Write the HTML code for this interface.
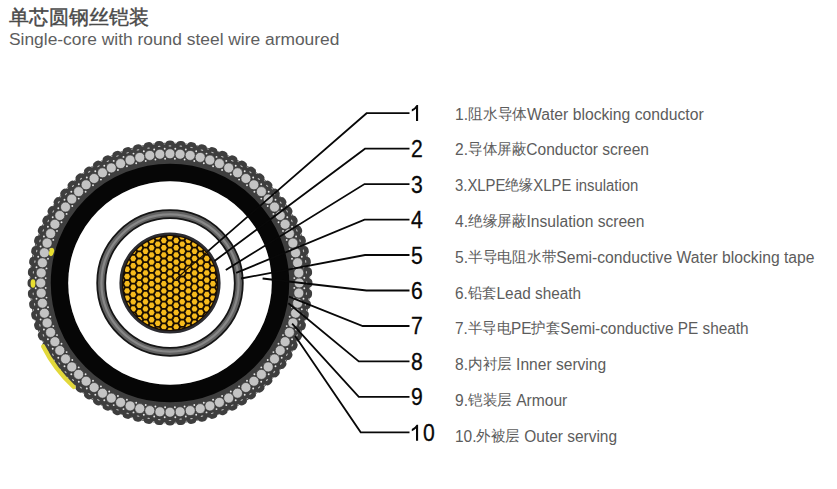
<!DOCTYPE html>
<html><head><meta charset="utf-8"><style>
html,body{margin:0;padding:0;background:#fff;width:837px;height:489px;overflow:hidden;position:relative}
body{font-family:"Liberation Sans",sans-serif}
svg{position:absolute;left:0;top:0}
.t1{position:absolute;left:9px;top:5px;font-size:20px;line-height:24px;color:#4a4a4a;font-weight:400;-webkit-text-stroke:0.45px #4a4a4a;white-space:nowrap}
.t2{position:absolute;left:9px;top:29.8px;font-size:16px;line-height:20px;color:#5e5e5e;white-space:nowrap;transform-origin:0 0;transform:scaleX(1.086376098272447)}
.lb{position:absolute;left:454.8px;font-size:16px;line-height:16px;color:#5c5c5c;white-space:nowrap;transform-origin:0 0}
.lb .c{font-size:14.7px;position:relative;top:-1px}
.nm{position:absolute;font-size:23.5px;line-height:0px;height:0;color:#080808;-webkit-text-stroke:0.3px #080808;white-space:nowrap;transform-origin:0 0;transform:scaleX(0.9)}
</style></head><body>
<svg width="837" height="489" viewBox="0 0 837 489">
<circle cx="170" cy="283" r="140.4" fill="#3e3e3e"/>
<ellipse cx="305.9" cy="288.3" rx="3.3" ry="3.9" transform="rotate(2.2 305.9 288.3)" fill="#3e3e3e"/>
<ellipse cx="305.1" cy="299" rx="3.3" ry="3.9" transform="rotate(6.8 305.1 299)" fill="#3e3e3e"/>
<ellipse cx="303.4" cy="309.5" rx="3.3" ry="3.9" transform="rotate(11.2 303.4 309.5)" fill="#3e3e3e"/>
<ellipse cx="300.9" cy="319.9" rx="3.3" ry="3.9" transform="rotate(15.8 300.9 319.9)" fill="#3e3e3e"/>
<ellipse cx="297.6" cy="330.1" rx="3.3" ry="3.9" transform="rotate(20.2 297.6 330.1)" fill="#3e3e3e"/>
<ellipse cx="293.5" cy="339.9" rx="3.3" ry="3.9" transform="rotate(24.7 293.5 339.9)" fill="#3e3e3e"/>
<ellipse cx="288.7" cy="349.5" rx="3.3" ry="3.9" transform="rotate(29.2 288.7 349.5)" fill="#3e3e3e"/>
<ellipse cx="283.1" cy="358.6" rx="3.3" ry="3.9" transform="rotate(33.8 283.1 358.6)" fill="#3e3e3e"/>
<ellipse cx="276.8" cy="367.2" rx="3.3" ry="3.9" transform="rotate(38.2 276.8 367.2)" fill="#3e3e3e"/>
<ellipse cx="269.9" cy="375.3" rx="3.3" ry="3.9" transform="rotate(42.8 269.9 375.3)" fill="#3e3e3e"/>
<ellipse cx="262.3" cy="382.9" rx="3.3" ry="3.9" transform="rotate(47.2 262.3 382.9)" fill="#3e3e3e"/>
<ellipse cx="254.2" cy="389.8" rx="3.3" ry="3.9" transform="rotate(51.8 254.2 389.8)" fill="#3e3e3e"/>
<ellipse cx="245.6" cy="396.1" rx="3.3" ry="3.9" transform="rotate(56.2 245.6 396.1)" fill="#3e3e3e"/>
<ellipse cx="236.5" cy="401.7" rx="3.3" ry="3.9" transform="rotate(60.8 236.5 401.7)" fill="#3e3e3e"/>
<ellipse cx="226.9" cy="406.5" rx="3.3" ry="3.9" transform="rotate(65.2 226.9 406.5)" fill="#3e3e3e"/>
<ellipse cx="217.1" cy="410.6" rx="3.3" ry="3.9" transform="rotate(69.8 217.1 410.6)" fill="#3e3e3e"/>
<ellipse cx="206.9" cy="413.9" rx="3.3" ry="3.9" transform="rotate(74.2 206.9 413.9)" fill="#3e3e3e"/>
<ellipse cx="196.5" cy="416.4" rx="3.3" ry="3.9" transform="rotate(78.8 196.5 416.4)" fill="#3e3e3e"/>
<ellipse cx="186" cy="418.1" rx="3.3" ry="3.9" transform="rotate(83.2 186 418.1)" fill="#3e3e3e"/>
<ellipse cx="175.3" cy="418.9" rx="3.3" ry="3.9" transform="rotate(87.8 175.3 418.9)" fill="#3e3e3e"/>
<ellipse cx="164.7" cy="418.9" rx="3.3" ry="3.9" transform="rotate(92.2 164.7 418.9)" fill="#3e3e3e"/>
<ellipse cx="154" cy="418.1" rx="3.3" ry="3.9" transform="rotate(96.8 154 418.1)" fill="#3e3e3e"/>
<ellipse cx="143.5" cy="416.4" rx="3.3" ry="3.9" transform="rotate(101.2 143.5 416.4)" fill="#3e3e3e"/>
<ellipse cx="133.1" cy="413.9" rx="3.3" ry="3.9" transform="rotate(105.8 133.1 413.9)" fill="#3e3e3e"/>
<ellipse cx="122.9" cy="410.6" rx="3.3" ry="3.9" transform="rotate(110.2 122.9 410.6)" fill="#3e3e3e"/>
<ellipse cx="113.1" cy="406.5" rx="3.3" ry="3.9" transform="rotate(114.7 113.1 406.5)" fill="#3e3e3e"/>
<ellipse cx="103.5" cy="401.7" rx="3.3" ry="3.9" transform="rotate(119.3 103.5 401.7)" fill="#3e3e3e"/>
<ellipse cx="94.4" cy="396.1" rx="3.3" ry="3.9" transform="rotate(123.8 94.4 396.1)" fill="#3e3e3e"/>
<ellipse cx="85.8" cy="389.8" rx="3.3" ry="3.9" transform="rotate(128.2 85.8 389.8)" fill="#3e3e3e"/>
<ellipse cx="77.7" cy="382.9" rx="3.3" ry="3.9" transform="rotate(132.8 77.7 382.9)" fill="#3e3e3e"/>
<ellipse cx="70.1" cy="375.3" rx="3.3" ry="3.9" transform="rotate(137.2 70.1 375.3)" fill="#3e3e3e"/>
<ellipse cx="63.2" cy="367.2" rx="3.3" ry="3.9" transform="rotate(141.8 63.2 367.2)" fill="#3e3e3e"/>
<ellipse cx="56.9" cy="358.6" rx="3.3" ry="3.9" transform="rotate(146.2 56.9 358.6)" fill="#3e3e3e"/>
<ellipse cx="51.3" cy="349.5" rx="3.3" ry="3.9" transform="rotate(150.8 51.3 349.5)" fill="#3e3e3e"/>
<ellipse cx="46.5" cy="339.9" rx="3.3" ry="3.9" transform="rotate(155.2 46.5 339.9)" fill="#3e3e3e"/>
<ellipse cx="42.4" cy="330.1" rx="3.3" ry="3.9" transform="rotate(159.8 42.4 330.1)" fill="#3e3e3e"/>
<ellipse cx="39.1" cy="319.9" rx="3.3" ry="3.9" transform="rotate(164.2 39.1 319.9)" fill="#3e3e3e"/>
<ellipse cx="36.6" cy="309.5" rx="3.3" ry="3.9" transform="rotate(168.8 36.6 309.5)" fill="#3e3e3e"/>
<ellipse cx="34.9" cy="299" rx="3.3" ry="3.9" transform="rotate(173.2 34.9 299)" fill="#3e3e3e"/>
<ellipse cx="34.1" cy="288.3" rx="3.3" ry="3.9" transform="rotate(177.8 34.1 288.3)" fill="#3e3e3e"/>
<ellipse cx="34.1" cy="277.7" rx="3.3" ry="3.9" transform="rotate(182.2 34.1 277.7)" fill="#3e3e3e"/>
<ellipse cx="34.9" cy="267" rx="3.3" ry="3.9" transform="rotate(186.8 34.9 267)" fill="#3e3e3e"/>
<ellipse cx="36.6" cy="256.5" rx="3.3" ry="3.9" transform="rotate(191.2 36.6 256.5)" fill="#3e3e3e"/>
<ellipse cx="39.1" cy="246.1" rx="3.3" ry="3.9" transform="rotate(195.8 39.1 246.1)" fill="#3e3e3e"/>
<ellipse cx="42.4" cy="235.9" rx="3.3" ry="3.9" transform="rotate(200.2 42.4 235.9)" fill="#3e3e3e"/>
<ellipse cx="46.5" cy="226.1" rx="3.3" ry="3.9" transform="rotate(204.8 46.5 226.1)" fill="#3e3e3e"/>
<ellipse cx="51.3" cy="216.5" rx="3.3" ry="3.9" transform="rotate(209.2 51.3 216.5)" fill="#3e3e3e"/>
<ellipse cx="56.9" cy="207.4" rx="3.3" ry="3.9" transform="rotate(213.8 56.9 207.4)" fill="#3e3e3e"/>
<ellipse cx="63.2" cy="198.8" rx="3.3" ry="3.9" transform="rotate(218.2 63.2 198.8)" fill="#3e3e3e"/>
<ellipse cx="70.1" cy="190.7" rx="3.3" ry="3.9" transform="rotate(222.8 70.1 190.7)" fill="#3e3e3e"/>
<ellipse cx="77.7" cy="183.1" rx="3.3" ry="3.9" transform="rotate(227.2 77.7 183.1)" fill="#3e3e3e"/>
<ellipse cx="85.8" cy="176.2" rx="3.3" ry="3.9" transform="rotate(231.8 85.8 176.2)" fill="#3e3e3e"/>
<ellipse cx="94.4" cy="169.9" rx="3.3" ry="3.9" transform="rotate(236.2 94.4 169.9)" fill="#3e3e3e"/>
<ellipse cx="103.5" cy="164.3" rx="3.3" ry="3.9" transform="rotate(240.8 103.5 164.3)" fill="#3e3e3e"/>
<ellipse cx="113.1" cy="159.5" rx="3.3" ry="3.9" transform="rotate(245.2 113.1 159.5)" fill="#3e3e3e"/>
<ellipse cx="122.9" cy="155.4" rx="3.3" ry="3.9" transform="rotate(249.8 122.9 155.4)" fill="#3e3e3e"/>
<ellipse cx="133.1" cy="152.1" rx="3.3" ry="3.9" transform="rotate(254.2 133.1 152.1)" fill="#3e3e3e"/>
<ellipse cx="143.5" cy="149.6" rx="3.3" ry="3.9" transform="rotate(258.8 143.5 149.6)" fill="#3e3e3e"/>
<ellipse cx="154" cy="147.9" rx="3.3" ry="3.9" transform="rotate(263.2 154 147.9)" fill="#3e3e3e"/>
<ellipse cx="164.7" cy="147.1" rx="3.3" ry="3.9" transform="rotate(267.8 164.7 147.1)" fill="#3e3e3e"/>
<ellipse cx="175.3" cy="147.1" rx="3.3" ry="3.9" transform="rotate(272.2 175.3 147.1)" fill="#3e3e3e"/>
<ellipse cx="186" cy="147.9" rx="3.3" ry="3.9" transform="rotate(276.8 186 147.9)" fill="#3e3e3e"/>
<ellipse cx="196.5" cy="149.6" rx="3.3" ry="3.9" transform="rotate(281.2 196.5 149.6)" fill="#3e3e3e"/>
<ellipse cx="206.9" cy="152.1" rx="3.3" ry="3.9" transform="rotate(285.8 206.9 152.1)" fill="#3e3e3e"/>
<ellipse cx="217.1" cy="155.4" rx="3.3" ry="3.9" transform="rotate(290.2 217.1 155.4)" fill="#3e3e3e"/>
<ellipse cx="226.9" cy="159.5" rx="3.3" ry="3.9" transform="rotate(294.8 226.9 159.5)" fill="#3e3e3e"/>
<ellipse cx="236.5" cy="164.3" rx="3.3" ry="3.9" transform="rotate(299.2 236.5 164.3)" fill="#3e3e3e"/>
<ellipse cx="245.6" cy="169.9" rx="3.3" ry="3.9" transform="rotate(303.8 245.6 169.9)" fill="#3e3e3e"/>
<ellipse cx="254.2" cy="176.2" rx="3.3" ry="3.9" transform="rotate(308.2 254.2 176.2)" fill="#3e3e3e"/>
<ellipse cx="262.3" cy="183.1" rx="3.3" ry="3.9" transform="rotate(312.8 262.3 183.1)" fill="#3e3e3e"/>
<ellipse cx="269.9" cy="190.7" rx="3.3" ry="3.9" transform="rotate(317.2 269.9 190.7)" fill="#3e3e3e"/>
<ellipse cx="276.8" cy="198.8" rx="3.3" ry="3.9" transform="rotate(321.8 276.8 198.8)" fill="#3e3e3e"/>
<ellipse cx="283.1" cy="207.4" rx="3.3" ry="3.9" transform="rotate(326.2 283.1 207.4)" fill="#3e3e3e"/>
<ellipse cx="288.7" cy="216.5" rx="3.3" ry="3.9" transform="rotate(330.8 288.7 216.5)" fill="#3e3e3e"/>
<ellipse cx="293.5" cy="226.1" rx="3.3" ry="3.9" transform="rotate(335.2 293.5 226.1)" fill="#3e3e3e"/>
<ellipse cx="297.6" cy="235.9" rx="3.3" ry="3.9" transform="rotate(339.8 297.6 235.9)" fill="#3e3e3e"/>
<ellipse cx="300.9" cy="246.1" rx="3.3" ry="3.9" transform="rotate(344.2 300.9 246.1)" fill="#3e3e3e"/>
<ellipse cx="303.4" cy="256.5" rx="3.3" ry="3.9" transform="rotate(348.8 303.4 256.5)" fill="#3e3e3e"/>
<ellipse cx="305.1" cy="267" rx="3.3" ry="3.9" transform="rotate(353.2 305.1 267)" fill="#3e3e3e"/>
<ellipse cx="305.9" cy="277.7" rx="3.3" ry="3.9" transform="rotate(357.8 305.9 277.7)" fill="#3e3e3e"/>
<ellipse cx="309.3" cy="283" rx="3.2" ry="4.3" transform="rotate(0.0 309.3 283)" fill="#3e3e3e"/>
<ellipse cx="308.9" cy="293.9" rx="3.2" ry="4.3" transform="rotate(4.5 308.9 293.9)" fill="#3e3e3e"/>
<ellipse cx="307.6" cy="304.8" rx="3.2" ry="4.3" transform="rotate(9.0 307.6 304.8)" fill="#3e3e3e"/>
<ellipse cx="305.5" cy="315.5" rx="3.2" ry="4.3" transform="rotate(13.5 305.5 315.5)" fill="#3e3e3e"/>
<ellipse cx="302.5" cy="326" rx="3.2" ry="4.3" transform="rotate(18.0 302.5 326)" fill="#3e3e3e"/>
<ellipse cx="298.7" cy="336.3" rx="3.2" ry="4.3" transform="rotate(22.5 298.7 336.3)" fill="#3e3e3e"/>
<ellipse cx="294.1" cy="346.2" rx="3.2" ry="4.3" transform="rotate(27.0 294.1 346.2)" fill="#3e3e3e"/>
<ellipse cx="288.8" cy="355.8" rx="3.2" ry="4.3" transform="rotate(31.5 288.8 355.8)" fill="#3e3e3e"/>
<ellipse cx="282.7" cy="364.9" rx="3.2" ry="4.3" transform="rotate(36.0 282.7 364.9)" fill="#3e3e3e"/>
<ellipse cx="275.9" cy="373.5" rx="3.2" ry="4.3" transform="rotate(40.5 275.9 373.5)" fill="#3e3e3e"/>
<ellipse cx="268.5" cy="381.5" rx="3.2" ry="4.3" transform="rotate(45.0 268.5 381.5)" fill="#3e3e3e"/>
<ellipse cx="260.5" cy="388.9" rx="3.2" ry="4.3" transform="rotate(49.5 260.5 388.9)" fill="#3e3e3e"/>
<ellipse cx="251.9" cy="395.7" rx="3.2" ry="4.3" transform="rotate(54.0 251.9 395.7)" fill="#3e3e3e"/>
<ellipse cx="242.8" cy="401.8" rx="3.2" ry="4.3" transform="rotate(58.5 242.8 401.8)" fill="#3e3e3e"/>
<ellipse cx="233.2" cy="407.1" rx="3.2" ry="4.3" transform="rotate(63.0 233.2 407.1)" fill="#3e3e3e"/>
<ellipse cx="223.3" cy="411.7" rx="3.2" ry="4.3" transform="rotate(67.5 223.3 411.7)" fill="#3e3e3e"/>
<ellipse cx="213" cy="415.5" rx="3.2" ry="4.3" transform="rotate(72.0 213 415.5)" fill="#3e3e3e"/>
<ellipse cx="202.5" cy="418.5" rx="3.2" ry="4.3" transform="rotate(76.5 202.5 418.5)" fill="#3e3e3e"/>
<ellipse cx="191.8" cy="420.6" rx="3.2" ry="4.3" transform="rotate(81.0 191.8 420.6)" fill="#3e3e3e"/>
<ellipse cx="180.9" cy="421.9" rx="3.2" ry="4.3" transform="rotate(85.5 180.9 421.9)" fill="#3e3e3e"/>
<ellipse cx="170" cy="422.3" rx="3.2" ry="4.3" transform="rotate(90.0 170 422.3)" fill="#3e3e3e"/>
<ellipse cx="159.1" cy="421.9" rx="3.2" ry="4.3" transform="rotate(94.5 159.1 421.9)" fill="#3e3e3e"/>
<ellipse cx="148.2" cy="420.6" rx="3.2" ry="4.3" transform="rotate(99.0 148.2 420.6)" fill="#3e3e3e"/>
<ellipse cx="137.5" cy="418.5" rx="3.2" ry="4.3" transform="rotate(103.5 137.5 418.5)" fill="#3e3e3e"/>
<ellipse cx="127" cy="415.5" rx="3.2" ry="4.3" transform="rotate(108.0 127 415.5)" fill="#3e3e3e"/>
<ellipse cx="116.7" cy="411.7" rx="3.2" ry="4.3" transform="rotate(112.5 116.7 411.7)" fill="#3e3e3e"/>
<ellipse cx="106.8" cy="407.1" rx="3.2" ry="4.3" transform="rotate(117.0 106.8 407.1)" fill="#3e3e3e"/>
<ellipse cx="97.2" cy="401.8" rx="3.2" ry="4.3" transform="rotate(121.5 97.2 401.8)" fill="#3e3e3e"/>
<ellipse cx="88.1" cy="395.7" rx="3.2" ry="4.3" transform="rotate(126.0 88.1 395.7)" fill="#3e3e3e"/>
<ellipse cx="79.5" cy="388.9" rx="3.2" ry="4.3" transform="rotate(130.5 79.5 388.9)" fill="#3e3e3e"/>
<ellipse cx="71.5" cy="381.5" rx="3.2" ry="4.3" transform="rotate(135.0 71.5 381.5)" fill="#3e3e3e"/>
<ellipse cx="64.1" cy="373.5" rx="3.2" ry="4.3" transform="rotate(139.5 64.1 373.5)" fill="#3e3e3e"/>
<ellipse cx="57.3" cy="364.9" rx="3.2" ry="4.3" transform="rotate(144.0 57.3 364.9)" fill="#3e3e3e"/>
<ellipse cx="51.2" cy="355.8" rx="3.2" ry="4.3" transform="rotate(148.5 51.2 355.8)" fill="#3e3e3e"/>
<ellipse cx="45.9" cy="346.2" rx="3.2" ry="4.3" transform="rotate(153.0 45.9 346.2)" fill="#3e3e3e"/>
<ellipse cx="41.3" cy="336.3" rx="3.2" ry="4.3" transform="rotate(157.5 41.3 336.3)" fill="#3e3e3e"/>
<ellipse cx="37.5" cy="326" rx="3.2" ry="4.3" transform="rotate(162.0 37.5 326)" fill="#3e3e3e"/>
<ellipse cx="34.5" cy="315.5" rx="3.2" ry="4.3" transform="rotate(166.5 34.5 315.5)" fill="#3e3e3e"/>
<ellipse cx="32.4" cy="304.8" rx="3.2" ry="4.3" transform="rotate(171.0 32.4 304.8)" fill="#3e3e3e"/>
<ellipse cx="31.1" cy="293.9" rx="3.2" ry="4.3" transform="rotate(175.5 31.1 293.9)" fill="#3e3e3e"/>
<ellipse cx="30.7" cy="283" rx="3.2" ry="4.3" transform="rotate(180.0 30.7 283)" fill="#3e3e3e"/>
<ellipse cx="31.1" cy="272.1" rx="3.2" ry="4.3" transform="rotate(184.5 31.1 272.1)" fill="#3e3e3e"/>
<ellipse cx="32.4" cy="261.2" rx="3.2" ry="4.3" transform="rotate(189.0 32.4 261.2)" fill="#3e3e3e"/>
<ellipse cx="34.5" cy="250.5" rx="3.2" ry="4.3" transform="rotate(193.5 34.5 250.5)" fill="#3e3e3e"/>
<ellipse cx="37.5" cy="240" rx="3.2" ry="4.3" transform="rotate(198.0 37.5 240)" fill="#3e3e3e"/>
<ellipse cx="41.3" cy="229.7" rx="3.2" ry="4.3" transform="rotate(202.5 41.3 229.7)" fill="#3e3e3e"/>
<ellipse cx="45.9" cy="219.8" rx="3.2" ry="4.3" transform="rotate(207.0 45.9 219.8)" fill="#3e3e3e"/>
<ellipse cx="51.2" cy="210.2" rx="3.2" ry="4.3" transform="rotate(211.5 51.2 210.2)" fill="#3e3e3e"/>
<ellipse cx="57.3" cy="201.1" rx="3.2" ry="4.3" transform="rotate(216.0 57.3 201.1)" fill="#3e3e3e"/>
<ellipse cx="64.1" cy="192.5" rx="3.2" ry="4.3" transform="rotate(220.5 64.1 192.5)" fill="#3e3e3e"/>
<ellipse cx="71.5" cy="184.5" rx="3.2" ry="4.3" transform="rotate(225.0 71.5 184.5)" fill="#3e3e3e"/>
<ellipse cx="79.5" cy="177.1" rx="3.2" ry="4.3" transform="rotate(229.5 79.5 177.1)" fill="#3e3e3e"/>
<ellipse cx="88.1" cy="170.3" rx="3.2" ry="4.3" transform="rotate(234.0 88.1 170.3)" fill="#3e3e3e"/>
<ellipse cx="97.2" cy="164.2" rx="3.2" ry="4.3" transform="rotate(238.5 97.2 164.2)" fill="#3e3e3e"/>
<ellipse cx="106.8" cy="158.9" rx="3.2" ry="4.3" transform="rotate(243.0 106.8 158.9)" fill="#3e3e3e"/>
<ellipse cx="116.7" cy="154.3" rx="3.2" ry="4.3" transform="rotate(247.5 116.7 154.3)" fill="#3e3e3e"/>
<ellipse cx="127" cy="150.5" rx="3.2" ry="4.3" transform="rotate(252.0 127 150.5)" fill="#3e3e3e"/>
<ellipse cx="137.5" cy="147.5" rx="3.2" ry="4.3" transform="rotate(256.5 137.5 147.5)" fill="#3e3e3e"/>
<ellipse cx="148.2" cy="145.4" rx="3.2" ry="4.3" transform="rotate(261.0 148.2 145.4)" fill="#3e3e3e"/>
<ellipse cx="159.1" cy="144.1" rx="3.2" ry="4.3" transform="rotate(265.5 159.1 144.1)" fill="#3e3e3e"/>
<ellipse cx="170" cy="143.7" rx="3.2" ry="4.3" transform="rotate(270.0 170 143.7)" fill="#3e3e3e"/>
<ellipse cx="180.9" cy="144.1" rx="3.2" ry="4.3" transform="rotate(274.5 180.9 144.1)" fill="#3e3e3e"/>
<ellipse cx="191.8" cy="145.4" rx="3.2" ry="4.3" transform="rotate(279.0 191.8 145.4)" fill="#3e3e3e"/>
<ellipse cx="202.5" cy="147.5" rx="3.2" ry="4.3" transform="rotate(283.5 202.5 147.5)" fill="#3e3e3e"/>
<ellipse cx="213" cy="150.5" rx="3.2" ry="4.3" transform="rotate(288.0 213 150.5)" fill="#3e3e3e"/>
<ellipse cx="223.3" cy="154.3" rx="3.2" ry="4.3" transform="rotate(292.5 223.3 154.3)" fill="#3e3e3e"/>
<ellipse cx="233.2" cy="158.9" rx="3.2" ry="4.3" transform="rotate(297.0 233.2 158.9)" fill="#3e3e3e"/>
<ellipse cx="242.8" cy="164.2" rx="3.2" ry="4.3" transform="rotate(301.5 242.8 164.2)" fill="#3e3e3e"/>
<ellipse cx="251.9" cy="170.3" rx="3.2" ry="4.3" transform="rotate(306.0 251.9 170.3)" fill="#3e3e3e"/>
<ellipse cx="260.5" cy="177.1" rx="3.2" ry="4.3" transform="rotate(310.5 260.5 177.1)" fill="#3e3e3e"/>
<ellipse cx="268.5" cy="184.5" rx="3.2" ry="4.3" transform="rotate(315.0 268.5 184.5)" fill="#3e3e3e"/>
<ellipse cx="275.9" cy="192.5" rx="3.2" ry="4.3" transform="rotate(319.5 275.9 192.5)" fill="#3e3e3e"/>
<ellipse cx="282.7" cy="201.1" rx="3.2" ry="4.3" transform="rotate(324.0 282.7 201.1)" fill="#3e3e3e"/>
<ellipse cx="288.8" cy="210.2" rx="3.2" ry="4.3" transform="rotate(328.5 288.8 210.2)" fill="#3e3e3e"/>
<ellipse cx="294.1" cy="219.8" rx="3.2" ry="4.3" transform="rotate(333.0 294.1 219.8)" fill="#3e3e3e"/>
<ellipse cx="298.7" cy="229.7" rx="3.2" ry="4.3" transform="rotate(337.5 298.7 229.7)" fill="#3e3e3e"/>
<ellipse cx="302.5" cy="240" rx="3.2" ry="4.3" transform="rotate(342.0 302.5 240)" fill="#3e3e3e"/>
<ellipse cx="305.5" cy="250.5" rx="3.2" ry="4.3" transform="rotate(346.5 305.5 250.5)" fill="#3e3e3e"/>
<ellipse cx="307.6" cy="261.2" rx="3.2" ry="4.3" transform="rotate(351.0 307.6 261.2)" fill="#3e3e3e"/>
<ellipse cx="308.9" cy="272.1" rx="3.2" ry="4.3" transform="rotate(355.5 308.9 272.1)" fill="#3e3e3e"/>
<circle cx="299.2" cy="283" r="5.0" fill="#c4c4c4" stroke="#2e2e2e" stroke-width="0.6"/>
<circle cx="298.8" cy="293.1" r="5.0" fill="#c4c4c4" stroke="#2e2e2e" stroke-width="0.6"/>
<circle cx="297.6" cy="303.2" r="5.0" fill="#c4c4c4" stroke="#2e2e2e" stroke-width="0.6"/>
<circle cx="295.6" cy="313.2" r="5.0" fill="#c4c4c4" stroke="#2e2e2e" stroke-width="0.6"/>
<circle cx="292.9" cy="322.9" r="5.0" fill="#c4c4c4" stroke="#2e2e2e" stroke-width="0.6"/>
<circle cx="289.4" cy="332.4" r="5.0" fill="#c4c4c4" stroke="#2e2e2e" stroke-width="0.6"/>
<circle cx="285.1" cy="341.7" r="5.0" fill="#c4c4c4" stroke="#2e2e2e" stroke-width="0.6"/>
<circle cx="280.2" cy="350.5" r="5.0" fill="#c4c4c4" stroke="#2e2e2e" stroke-width="0.6"/>
<circle cx="274.5" cy="358.9" r="5.0" fill="#c4c4c4" stroke="#2e2e2e" stroke-width="0.6"/>
<circle cx="268.2" cy="366.9" r="5.0" fill="#c4c4c4" stroke="#2e2e2e" stroke-width="0.6"/>
<circle cx="261.4" cy="374.4" r="5.0" fill="#c4c4c4" stroke="#2e2e2e" stroke-width="0.6"/>
<circle cx="253.9" cy="381.2" r="5.0" fill="#c4c4c4" stroke="#2e2e2e" stroke-width="0.6"/>
<circle cx="245.9" cy="387.5" r="5.0" fill="#c4c4c4" stroke="#2e2e2e" stroke-width="0.6"/>
<circle cx="237.5" cy="393.2" r="5.0" fill="#c4c4c4" stroke="#2e2e2e" stroke-width="0.6"/>
<circle cx="228.7" cy="398.1" r="5.0" fill="#c4c4c4" stroke="#2e2e2e" stroke-width="0.6"/>
<circle cx="219.4" cy="402.4" r="5.0" fill="#c4c4c4" stroke="#2e2e2e" stroke-width="0.6"/>
<circle cx="209.9" cy="405.9" r="5.0" fill="#c4c4c4" stroke="#2e2e2e" stroke-width="0.6"/>
<circle cx="200.2" cy="408.6" r="5.0" fill="#c4c4c4" stroke="#2e2e2e" stroke-width="0.6"/>
<circle cx="190.2" cy="410.6" r="5.0" fill="#c4c4c4" stroke="#2e2e2e" stroke-width="0.6"/>
<circle cx="180.1" cy="411.8" r="5.0" fill="#c4c4c4" stroke="#2e2e2e" stroke-width="0.6"/>
<circle cx="170" cy="412.2" r="5.0" fill="#c4c4c4" stroke="#2e2e2e" stroke-width="0.6"/>
<circle cx="159.9" cy="411.8" r="5.0" fill="#c4c4c4" stroke="#2e2e2e" stroke-width="0.6"/>
<circle cx="149.8" cy="410.6" r="5.0" fill="#c4c4c4" stroke="#2e2e2e" stroke-width="0.6"/>
<circle cx="139.8" cy="408.6" r="5.0" fill="#c4c4c4" stroke="#2e2e2e" stroke-width="0.6"/>
<circle cx="130.1" cy="405.9" r="5.0" fill="#c4c4c4" stroke="#2e2e2e" stroke-width="0.6"/>
<circle cx="120.6" cy="402.4" r="5.0" fill="#c4c4c4" stroke="#2e2e2e" stroke-width="0.6"/>
<circle cx="111.3" cy="398.1" r="5.0" fill="#c4c4c4" stroke="#2e2e2e" stroke-width="0.6"/>
<circle cx="102.5" cy="393.2" r="5.0" fill="#c4c4c4" stroke="#2e2e2e" stroke-width="0.6"/>
<circle cx="94.1" cy="387.5" r="5.0" fill="#c4c4c4" stroke="#2e2e2e" stroke-width="0.6"/>
<circle cx="86.1" cy="381.2" r="5.0" fill="#c4c4c4" stroke="#2e2e2e" stroke-width="0.6"/>
<circle cx="78.6" cy="374.4" r="5.0" fill="#c4c4c4" stroke="#2e2e2e" stroke-width="0.6"/>
<circle cx="71.8" cy="366.9" r="5.0" fill="#c4c4c4" stroke="#2e2e2e" stroke-width="0.6"/>
<circle cx="65.5" cy="358.9" r="5.0" fill="#c4c4c4" stroke="#2e2e2e" stroke-width="0.6"/>
<circle cx="59.8" cy="350.5" r="5.0" fill="#c4c4c4" stroke="#2e2e2e" stroke-width="0.6"/>
<circle cx="54.9" cy="341.7" r="5.0" fill="#c4c4c4" stroke="#2e2e2e" stroke-width="0.6"/>
<circle cx="50.6" cy="332.4" r="5.0" fill="#c4c4c4" stroke="#2e2e2e" stroke-width="0.6"/>
<circle cx="47.1" cy="322.9" r="5.0" fill="#c4c4c4" stroke="#2e2e2e" stroke-width="0.6"/>
<circle cx="44.4" cy="313.2" r="5.0" fill="#c4c4c4" stroke="#2e2e2e" stroke-width="0.6"/>
<circle cx="42.4" cy="303.2" r="5.0" fill="#c4c4c4" stroke="#2e2e2e" stroke-width="0.6"/>
<circle cx="41.2" cy="293.1" r="5.0" fill="#c4c4c4" stroke="#2e2e2e" stroke-width="0.6"/>
<circle cx="40.8" cy="283" r="5.0" fill="#c4c4c4" stroke="#2e2e2e" stroke-width="0.6"/>
<circle cx="41.2" cy="272.9" r="5.0" fill="#c4c4c4" stroke="#2e2e2e" stroke-width="0.6"/>
<circle cx="42.4" cy="262.8" r="5.0" fill="#c4c4c4" stroke="#2e2e2e" stroke-width="0.6"/>
<circle cx="44.4" cy="252.8" r="5.0" fill="#c4c4c4" stroke="#2e2e2e" stroke-width="0.6"/>
<circle cx="47.1" cy="243.1" r="5.0" fill="#c4c4c4" stroke="#2e2e2e" stroke-width="0.6"/>
<circle cx="50.6" cy="233.6" r="5.0" fill="#c4c4c4" stroke="#2e2e2e" stroke-width="0.6"/>
<circle cx="54.9" cy="224.3" r="5.0" fill="#c4c4c4" stroke="#2e2e2e" stroke-width="0.6"/>
<circle cx="59.8" cy="215.5" r="5.0" fill="#c4c4c4" stroke="#2e2e2e" stroke-width="0.6"/>
<circle cx="65.5" cy="207.1" r="5.0" fill="#c4c4c4" stroke="#2e2e2e" stroke-width="0.6"/>
<circle cx="71.8" cy="199.1" r="5.0" fill="#c4c4c4" stroke="#2e2e2e" stroke-width="0.6"/>
<circle cx="78.6" cy="191.6" r="5.0" fill="#c4c4c4" stroke="#2e2e2e" stroke-width="0.6"/>
<circle cx="86.1" cy="184.8" r="5.0" fill="#c4c4c4" stroke="#2e2e2e" stroke-width="0.6"/>
<circle cx="94.1" cy="178.5" r="5.0" fill="#c4c4c4" stroke="#2e2e2e" stroke-width="0.6"/>
<circle cx="102.5" cy="172.8" r="5.0" fill="#c4c4c4" stroke="#2e2e2e" stroke-width="0.6"/>
<circle cx="111.3" cy="167.9" r="5.0" fill="#c4c4c4" stroke="#2e2e2e" stroke-width="0.6"/>
<circle cx="120.6" cy="163.6" r="5.0" fill="#c4c4c4" stroke="#2e2e2e" stroke-width="0.6"/>
<circle cx="130.1" cy="160.1" r="5.0" fill="#c4c4c4" stroke="#2e2e2e" stroke-width="0.6"/>
<circle cx="139.8" cy="157.4" r="5.0" fill="#c4c4c4" stroke="#2e2e2e" stroke-width="0.6"/>
<circle cx="149.8" cy="155.4" r="5.0" fill="#c4c4c4" stroke="#2e2e2e" stroke-width="0.6"/>
<circle cx="159.9" cy="154.2" r="5.0" fill="#c4c4c4" stroke="#2e2e2e" stroke-width="0.6"/>
<circle cx="170" cy="153.8" r="5.0" fill="#c4c4c4" stroke="#2e2e2e" stroke-width="0.6"/>
<circle cx="180.1" cy="154.2" r="5.0" fill="#c4c4c4" stroke="#2e2e2e" stroke-width="0.6"/>
<circle cx="190.2" cy="155.4" r="5.0" fill="#c4c4c4" stroke="#2e2e2e" stroke-width="0.6"/>
<circle cx="200.2" cy="157.4" r="5.0" fill="#c4c4c4" stroke="#2e2e2e" stroke-width="0.6"/>
<circle cx="209.9" cy="160.1" r="5.0" fill="#c4c4c4" stroke="#2e2e2e" stroke-width="0.6"/>
<circle cx="219.4" cy="163.6" r="5.0" fill="#c4c4c4" stroke="#2e2e2e" stroke-width="0.6"/>
<circle cx="228.7" cy="167.9" r="5.0" fill="#c4c4c4" stroke="#2e2e2e" stroke-width="0.6"/>
<circle cx="237.5" cy="172.8" r="5.0" fill="#c4c4c4" stroke="#2e2e2e" stroke-width="0.6"/>
<circle cx="245.9" cy="178.5" r="5.0" fill="#c4c4c4" stroke="#2e2e2e" stroke-width="0.6"/>
<circle cx="253.9" cy="184.8" r="5.0" fill="#c4c4c4" stroke="#2e2e2e" stroke-width="0.6"/>
<circle cx="261.4" cy="191.6" r="5.0" fill="#c4c4c4" stroke="#2e2e2e" stroke-width="0.6"/>
<circle cx="268.2" cy="199.1" r="5.0" fill="#c4c4c4" stroke="#2e2e2e" stroke-width="0.6"/>
<circle cx="274.5" cy="207.1" r="5.0" fill="#c4c4c4" stroke="#2e2e2e" stroke-width="0.6"/>
<circle cx="280.2" cy="215.5" r="5.0" fill="#c4c4c4" stroke="#2e2e2e" stroke-width="0.6"/>
<circle cx="285.1" cy="224.3" r="5.0" fill="#c4c4c4" stroke="#2e2e2e" stroke-width="0.6"/>
<circle cx="289.4" cy="233.6" r="5.0" fill="#c4c4c4" stroke="#2e2e2e" stroke-width="0.6"/>
<circle cx="292.9" cy="243.1" r="5.0" fill="#c4c4c4" stroke="#2e2e2e" stroke-width="0.6"/>
<circle cx="295.6" cy="252.8" r="5.0" fill="#c4c4c4" stroke="#2e2e2e" stroke-width="0.6"/>
<circle cx="297.6" cy="262.8" r="5.0" fill="#c4c4c4" stroke="#2e2e2e" stroke-width="0.6"/>
<circle cx="298.8" cy="272.9" r="5.0" fill="#c4c4c4" stroke="#2e2e2e" stroke-width="0.6"/>
<circle cx="294.3" cy="287.9" r="0.95" fill="#e8e8e8"/>
<circle cx="304.3" cy="288.3" r="0.95" fill="#e8e8e8"/>
<circle cx="293.5" cy="297.6" r="0.95" fill="#e8e8e8"/>
<circle cx="303.5" cy="298.8" r="0.95" fill="#e8e8e8"/>
<circle cx="292" cy="307.3" r="0.95" fill="#e8e8e8"/>
<circle cx="301.8" cy="309.2" r="0.95" fill="#e8e8e8"/>
<circle cx="289.7" cy="316.8" r="0.95" fill="#e8e8e8"/>
<circle cx="299.4" cy="319.5" r="0.95" fill="#e8e8e8"/>
<circle cx="286.7" cy="326.1" r="0.95" fill="#e8e8e8"/>
<circle cx="296.1" cy="329.5" r="0.95" fill="#e8e8e8"/>
<circle cx="283" cy="335.1" r="0.95" fill="#e8e8e8"/>
<circle cx="292.1" cy="339.3" r="0.95" fill="#e8e8e8"/>
<circle cx="278.5" cy="343.8" r="0.95" fill="#e8e8e8"/>
<circle cx="287.3" cy="348.7" r="0.95" fill="#e8e8e8"/>
<circle cx="273.4" cy="352.1" r="0.95" fill="#e8e8e8"/>
<circle cx="281.7" cy="357.7" r="0.95" fill="#e8e8e8"/>
<circle cx="267.7" cy="360" r="0.95" fill="#e8e8e8"/>
<circle cx="275.5" cy="366.2" r="0.95" fill="#e8e8e8"/>
<circle cx="261.3" cy="367.4" r="0.95" fill="#e8e8e8"/>
<circle cx="268.7" cy="374.2" r="0.95" fill="#e8e8e8"/>
<circle cx="254.4" cy="374.3" r="0.95" fill="#e8e8e8"/>
<circle cx="261.2" cy="381.7" r="0.95" fill="#e8e8e8"/>
<circle cx="247" cy="380.7" r="0.95" fill="#e8e8e8"/>
<circle cx="253.2" cy="388.5" r="0.95" fill="#e8e8e8"/>
<circle cx="239.1" cy="386.4" r="0.95" fill="#e8e8e8"/>
<circle cx="244.7" cy="394.7" r="0.95" fill="#e8e8e8"/>
<circle cx="230.8" cy="391.5" r="0.95" fill="#e8e8e8"/>
<circle cx="235.7" cy="400.3" r="0.95" fill="#e8e8e8"/>
<circle cx="222.1" cy="396" r="0.95" fill="#e8e8e8"/>
<circle cx="226.3" cy="405.1" r="0.95" fill="#e8e8e8"/>
<circle cx="213.1" cy="399.7" r="0.95" fill="#e8e8e8"/>
<circle cx="216.5" cy="409.1" r="0.95" fill="#e8e8e8"/>
<circle cx="203.8" cy="402.7" r="0.95" fill="#e8e8e8"/>
<circle cx="206.5" cy="412.4" r="0.95" fill="#e8e8e8"/>
<circle cx="194.3" cy="405" r="0.95" fill="#e8e8e8"/>
<circle cx="196.2" cy="414.8" r="0.95" fill="#e8e8e8"/>
<circle cx="184.6" cy="406.5" r="0.95" fill="#e8e8e8"/>
<circle cx="185.8" cy="416.5" r="0.95" fill="#e8e8e8"/>
<circle cx="174.9" cy="407.3" r="0.95" fill="#e8e8e8"/>
<circle cx="175.3" cy="417.3" r="0.95" fill="#e8e8e8"/>
<circle cx="165.1" cy="407.3" r="0.95" fill="#e8e8e8"/>
<circle cx="164.7" cy="417.3" r="0.95" fill="#e8e8e8"/>
<circle cx="155.4" cy="406.5" r="0.95" fill="#e8e8e8"/>
<circle cx="154.2" cy="416.5" r="0.95" fill="#e8e8e8"/>
<circle cx="145.7" cy="405" r="0.95" fill="#e8e8e8"/>
<circle cx="143.8" cy="414.8" r="0.95" fill="#e8e8e8"/>
<circle cx="136.2" cy="402.7" r="0.95" fill="#e8e8e8"/>
<circle cx="133.5" cy="412.4" r="0.95" fill="#e8e8e8"/>
<circle cx="126.9" cy="399.7" r="0.95" fill="#e8e8e8"/>
<circle cx="123.5" cy="409.1" r="0.95" fill="#e8e8e8"/>
<circle cx="117.9" cy="396" r="0.95" fill="#e8e8e8"/>
<circle cx="113.7" cy="405.1" r="0.95" fill="#e8e8e8"/>
<circle cx="109.2" cy="391.5" r="0.95" fill="#e8e8e8"/>
<circle cx="104.3" cy="400.3" r="0.95" fill="#e8e8e8"/>
<circle cx="100.9" cy="386.4" r="0.95" fill="#e8e8e8"/>
<circle cx="95.3" cy="394.7" r="0.95" fill="#e8e8e8"/>
<circle cx="93" cy="380.7" r="0.95" fill="#e8e8e8"/>
<circle cx="86.8" cy="388.5" r="0.95" fill="#e8e8e8"/>
<circle cx="85.6" cy="374.3" r="0.95" fill="#e8e8e8"/>
<circle cx="78.8" cy="381.7" r="0.95" fill="#e8e8e8"/>
<circle cx="78.7" cy="367.4" r="0.95" fill="#e8e8e8"/>
<circle cx="71.3" cy="374.2" r="0.95" fill="#e8e8e8"/>
<circle cx="72.3" cy="360" r="0.95" fill="#e8e8e8"/>
<circle cx="64.5" cy="366.2" r="0.95" fill="#e8e8e8"/>
<circle cx="66.6" cy="352.1" r="0.95" fill="#e8e8e8"/>
<circle cx="58.3" cy="357.7" r="0.95" fill="#e8e8e8"/>
<circle cx="61.5" cy="343.8" r="0.95" fill="#e8e8e8"/>
<circle cx="52.7" cy="348.7" r="0.95" fill="#e8e8e8"/>
<circle cx="57" cy="335.1" r="0.95" fill="#e8e8e8"/>
<circle cx="47.9" cy="339.3" r="0.95" fill="#e8e8e8"/>
<circle cx="53.3" cy="326.1" r="0.95" fill="#e8e8e8"/>
<circle cx="43.9" cy="329.5" r="0.95" fill="#e8e8e8"/>
<circle cx="50.3" cy="316.8" r="0.95" fill="#e8e8e8"/>
<circle cx="40.6" cy="319.5" r="0.95" fill="#e8e8e8"/>
<circle cx="48" cy="307.3" r="0.95" fill="#e8e8e8"/>
<circle cx="38.2" cy="309.2" r="0.95" fill="#e8e8e8"/>
<circle cx="46.5" cy="297.6" r="0.95" fill="#e8e8e8"/>
<circle cx="36.5" cy="298.8" r="0.95" fill="#e8e8e8"/>
<circle cx="45.7" cy="287.9" r="0.95" fill="#e8e8e8"/>
<circle cx="35.7" cy="288.3" r="0.95" fill="#e8e8e8"/>
<circle cx="45.7" cy="278.1" r="0.95" fill="#e8e8e8"/>
<circle cx="35.7" cy="277.7" r="0.95" fill="#e8e8e8"/>
<circle cx="46.5" cy="268.4" r="0.95" fill="#e8e8e8"/>
<circle cx="36.5" cy="267.2" r="0.95" fill="#e8e8e8"/>
<circle cx="48" cy="258.7" r="0.95" fill="#e8e8e8"/>
<circle cx="38.2" cy="256.8" r="0.95" fill="#e8e8e8"/>
<circle cx="50.3" cy="249.2" r="0.95" fill="#e8e8e8"/>
<circle cx="40.6" cy="246.5" r="0.95" fill="#e8e8e8"/>
<circle cx="53.3" cy="239.9" r="0.95" fill="#e8e8e8"/>
<circle cx="43.9" cy="236.5" r="0.95" fill="#e8e8e8"/>
<circle cx="57" cy="230.9" r="0.95" fill="#e8e8e8"/>
<circle cx="47.9" cy="226.7" r="0.95" fill="#e8e8e8"/>
<circle cx="61.5" cy="222.2" r="0.95" fill="#e8e8e8"/>
<circle cx="52.7" cy="217.3" r="0.95" fill="#e8e8e8"/>
<circle cx="66.6" cy="213.9" r="0.95" fill="#e8e8e8"/>
<circle cx="58.3" cy="208.3" r="0.95" fill="#e8e8e8"/>
<circle cx="72.3" cy="206" r="0.95" fill="#e8e8e8"/>
<circle cx="64.5" cy="199.8" r="0.95" fill="#e8e8e8"/>
<circle cx="78.7" cy="198.6" r="0.95" fill="#e8e8e8"/>
<circle cx="71.3" cy="191.8" r="0.95" fill="#e8e8e8"/>
<circle cx="85.6" cy="191.7" r="0.95" fill="#e8e8e8"/>
<circle cx="78.8" cy="184.3" r="0.95" fill="#e8e8e8"/>
<circle cx="93" cy="185.3" r="0.95" fill="#e8e8e8"/>
<circle cx="86.8" cy="177.5" r="0.95" fill="#e8e8e8"/>
<circle cx="100.9" cy="179.6" r="0.95" fill="#e8e8e8"/>
<circle cx="95.3" cy="171.3" r="0.95" fill="#e8e8e8"/>
<circle cx="109.2" cy="174.5" r="0.95" fill="#e8e8e8"/>
<circle cx="104.3" cy="165.7" r="0.95" fill="#e8e8e8"/>
<circle cx="117.9" cy="170" r="0.95" fill="#e8e8e8"/>
<circle cx="113.7" cy="160.9" r="0.95" fill="#e8e8e8"/>
<circle cx="126.9" cy="166.3" r="0.95" fill="#e8e8e8"/>
<circle cx="123.5" cy="156.9" r="0.95" fill="#e8e8e8"/>
<circle cx="136.2" cy="163.3" r="0.95" fill="#e8e8e8"/>
<circle cx="133.5" cy="153.6" r="0.95" fill="#e8e8e8"/>
<circle cx="145.7" cy="161" r="0.95" fill="#e8e8e8"/>
<circle cx="143.8" cy="151.2" r="0.95" fill="#e8e8e8"/>
<circle cx="155.4" cy="159.5" r="0.95" fill="#e8e8e8"/>
<circle cx="154.2" cy="149.5" r="0.95" fill="#e8e8e8"/>
<circle cx="165.1" cy="158.7" r="0.95" fill="#e8e8e8"/>
<circle cx="164.7" cy="148.7" r="0.95" fill="#e8e8e8"/>
<circle cx="174.9" cy="158.7" r="0.95" fill="#e8e8e8"/>
<circle cx="175.3" cy="148.7" r="0.95" fill="#e8e8e8"/>
<circle cx="184.6" cy="159.5" r="0.95" fill="#e8e8e8"/>
<circle cx="185.8" cy="149.5" r="0.95" fill="#e8e8e8"/>
<circle cx="194.3" cy="161" r="0.95" fill="#e8e8e8"/>
<circle cx="196.2" cy="151.2" r="0.95" fill="#e8e8e8"/>
<circle cx="203.8" cy="163.3" r="0.95" fill="#e8e8e8"/>
<circle cx="206.5" cy="153.6" r="0.95" fill="#e8e8e8"/>
<circle cx="213.1" cy="166.3" r="0.95" fill="#e8e8e8"/>
<circle cx="216.5" cy="156.9" r="0.95" fill="#e8e8e8"/>
<circle cx="222.1" cy="170" r="0.95" fill="#e8e8e8"/>
<circle cx="226.3" cy="160.9" r="0.95" fill="#e8e8e8"/>
<circle cx="230.8" cy="174.5" r="0.95" fill="#e8e8e8"/>
<circle cx="235.7" cy="165.7" r="0.95" fill="#e8e8e8"/>
<circle cx="239.1" cy="179.6" r="0.95" fill="#e8e8e8"/>
<circle cx="244.7" cy="171.3" r="0.95" fill="#e8e8e8"/>
<circle cx="247" cy="185.3" r="0.95" fill="#e8e8e8"/>
<circle cx="253.2" cy="177.5" r="0.95" fill="#e8e8e8"/>
<circle cx="254.4" cy="191.7" r="0.95" fill="#e8e8e8"/>
<circle cx="261.2" cy="184.3" r="0.95" fill="#e8e8e8"/>
<circle cx="261.3" cy="198.6" r="0.95" fill="#e8e8e8"/>
<circle cx="268.7" cy="191.8" r="0.95" fill="#e8e8e8"/>
<circle cx="267.7" cy="206" r="0.95" fill="#e8e8e8"/>
<circle cx="275.5" cy="199.8" r="0.95" fill="#e8e8e8"/>
<circle cx="273.4" cy="213.9" r="0.95" fill="#e8e8e8"/>
<circle cx="281.7" cy="208.3" r="0.95" fill="#e8e8e8"/>
<circle cx="278.5" cy="222.2" r="0.95" fill="#e8e8e8"/>
<circle cx="287.3" cy="217.3" r="0.95" fill="#e8e8e8"/>
<circle cx="283" cy="230.9" r="0.95" fill="#e8e8e8"/>
<circle cx="292.1" cy="226.7" r="0.95" fill="#e8e8e8"/>
<circle cx="286.7" cy="239.9" r="0.95" fill="#e8e8e8"/>
<circle cx="296.1" cy="236.5" r="0.95" fill="#e8e8e8"/>
<circle cx="289.7" cy="249.2" r="0.95" fill="#e8e8e8"/>
<circle cx="299.4" cy="246.5" r="0.95" fill="#e8e8e8"/>
<circle cx="292" cy="258.7" r="0.95" fill="#e8e8e8"/>
<circle cx="301.8" cy="256.8" r="0.95" fill="#e8e8e8"/>
<circle cx="293.5" cy="268.4" r="0.95" fill="#e8e8e8"/>
<circle cx="303.5" cy="267.2" r="0.95" fill="#e8e8e8"/>
<circle cx="294.3" cy="278.1" r="0.95" fill="#e8e8e8"/>
<circle cx="304.3" cy="277.7" r="0.95" fill="#e8e8e8"/>
<ellipse cx="306.7" cy="283" rx="0.6" ry="1.4" transform="rotate(0.0 306.7 283)" fill="#bdbdbd"/>
<ellipse cx="309.5" cy="288.5" rx="0.5" ry="1.1" transform="rotate(2.2 309.5 288.5)" fill="#a8a8a8"/>
<ellipse cx="306.4" cy="293.7" rx="0.6" ry="1.4" transform="rotate(4.5 306.4 293.7)" fill="#bdbdbd"/>
<ellipse cx="308.7" cy="299.4" rx="0.5" ry="1.1" transform="rotate(6.8 308.7 299.4)" fill="#a8a8a8"/>
<ellipse cx="305.4" cy="304.5" rx="0.6" ry="1.4" transform="rotate(9.0 305.4 304.5)" fill="#bdbdbd"/>
<ellipse cx="306.5" cy="310.1" rx="0.5" ry="1.1" transform="rotate(11.2 306.5 310.1)" fill="#a8a8a8"/>
<ellipse cx="302.7" cy="314.9" rx="0.6" ry="1.4" transform="rotate(13.5 302.7 314.9)" fill="#bdbdbd"/>
<ellipse cx="304.7" cy="321" rx="0.5" ry="1.1" transform="rotate(15.8 304.7 321)" fill="#a8a8a8"/>
<ellipse cx="300.1" cy="325.3" rx="0.6" ry="1.4" transform="rotate(18.0 300.1 325.3)" fill="#bdbdbd"/>
<ellipse cx="300.7" cy="331.2" rx="0.5" ry="1.1" transform="rotate(20.2 300.7 331.2)" fill="#a8a8a8"/>
<ellipse cx="297" cy="335.6" rx="0.6" ry="1.4" transform="rotate(22.5 297 335.6)" fill="#bdbdbd"/>
<ellipse cx="296.7" cy="341.4" rx="0.5" ry="1.1" transform="rotate(24.8 296.7 341.4)" fill="#a8a8a8"/>
<ellipse cx="292.4" cy="345.3" rx="0.6" ry="1.4" transform="rotate(27.0 292.4 345.3)" fill="#bdbdbd"/>
<ellipse cx="291.8" cy="351.2" rx="0.5" ry="1.1" transform="rotate(29.2 291.8 351.2)" fill="#a8a8a8"/>
<ellipse cx="286.9" cy="354.7" rx="0.6" ry="1.4" transform="rotate(31.5 286.9 354.7)" fill="#bdbdbd"/>
<ellipse cx="285.8" cy="360.4" rx="0.5" ry="1.1" transform="rotate(33.8 285.8 360.4)" fill="#a8a8a8"/>
<ellipse cx="280.9" cy="363.6" rx="0.6" ry="1.4" transform="rotate(36.0 280.9 363.6)" fill="#bdbdbd"/>
<ellipse cx="279.9" cy="369.7" rx="0.5" ry="1.1" transform="rotate(38.2 279.9 369.7)" fill="#a8a8a8"/>
<ellipse cx="274.2" cy="372" rx="0.6" ry="1.4" transform="rotate(40.5 274.2 372)" fill="#bdbdbd"/>
<ellipse cx="272.7" cy="377.9" rx="0.5" ry="1.1" transform="rotate(42.8 272.7 377.9)" fill="#a8a8a8"/>
<ellipse cx="267" cy="380" rx="0.6" ry="1.4" transform="rotate(45.0 267 380)" fill="#bdbdbd"/>
<ellipse cx="264.5" cy="385.2" rx="0.5" ry="1.1" transform="rotate(47.2 264.5 385.2)" fill="#a8a8a8"/>
<ellipse cx="259.1" cy="387.4" rx="0.6" ry="1.4" transform="rotate(49.5 259.1 387.4)" fill="#bdbdbd"/>
<ellipse cx="256.5" cy="392.7" rx="0.5" ry="1.1" transform="rotate(51.7 256.5 392.7)" fill="#a8a8a8"/>
<ellipse cx="250.4" cy="393.7" rx="0.6" ry="1.4" transform="rotate(54.0 250.4 393.7)" fill="#bdbdbd"/>
<ellipse cx="247.3" cy="398.7" rx="0.5" ry="1.1" transform="rotate(56.2 247.3 398.7)" fill="#a8a8a8"/>
<ellipse cx="241.8" cy="400.1" rx="0.6" ry="1.4" transform="rotate(58.5 241.8 400.1)" fill="#bdbdbd"/>
<ellipse cx="238.2" cy="404.8" rx="0.5" ry="1.1" transform="rotate(60.8 238.2 404.8)" fill="#a8a8a8"/>
<ellipse cx="232.3" cy="405.3" rx="0.6" ry="1.4" transform="rotate(63.0 232.3 405.3)" fill="#bdbdbd"/>
<ellipse cx="228.6" cy="410.1" rx="0.5" ry="1.1" transform="rotate(65.2 228.6 410.1)" fill="#a8a8a8"/>
<ellipse cx="222.5" cy="409.8" rx="0.6" ry="1.4" transform="rotate(67.5 222.5 409.8)" fill="#bdbdbd"/>
<ellipse cx="218.5" cy="414.4" rx="0.5" ry="1.1" transform="rotate(69.8 218.5 414.4)" fill="#a8a8a8"/>
<ellipse cx="212.3" cy="413.2" rx="0.6" ry="1.4" transform="rotate(72.0 212.3 413.2)" fill="#bdbdbd"/>
<ellipse cx="208" cy="417.6" rx="0.5" ry="1.1" transform="rotate(74.2 208 417.6)" fill="#a8a8a8"/>
<ellipse cx="202" cy="416.2" rx="0.6" ry="1.4" transform="rotate(76.5 202 416.2)" fill="#bdbdbd"/>
<ellipse cx="197.3" cy="420.3" rx="0.5" ry="1.1" transform="rotate(78.8 197.3 420.3)" fill="#a8a8a8"/>
<ellipse cx="191.5" cy="418.7" rx="0.6" ry="1.4" transform="rotate(81.0 191.5 418.7)" fill="#bdbdbd"/>
<ellipse cx="186.4" cy="421.2" rx="0.5" ry="1.1" transform="rotate(83.2 186.4 421.2)" fill="#a8a8a8"/>
<ellipse cx="180.7" cy="419.2" rx="0.6" ry="1.4" transform="rotate(85.5 180.7 419.2)" fill="#bdbdbd"/>
<ellipse cx="175.5" cy="422.2" rx="0.5" ry="1.1" transform="rotate(87.8 175.5 422.2)" fill="#a8a8a8"/>
<ellipse cx="170" cy="420.5" rx="0.6" ry="1.4" transform="rotate(90.0 170 420.5)" fill="#bdbdbd"/>
<ellipse cx="164.5" cy="422.4" rx="0.5" ry="1.1" transform="rotate(92.2 164.5 422.4)" fill="#a8a8a8"/>
<ellipse cx="159.2" cy="419.7" rx="0.6" ry="1.4" transform="rotate(94.5 159.2 419.7)" fill="#bdbdbd"/>
<ellipse cx="153.6" cy="421.4" rx="0.5" ry="1.1" transform="rotate(96.8 153.6 421.4)" fill="#a8a8a8"/>
<ellipse cx="148.6" cy="418.3" rx="0.6" ry="1.4" transform="rotate(99.0 148.6 418.3)" fill="#bdbdbd"/>
<ellipse cx="142.8" cy="419.8" rx="0.5" ry="1.1" transform="rotate(101.2 142.8 419.8)" fill="#a8a8a8"/>
<ellipse cx="138.1" cy="416.1" rx="0.6" ry="1.4" transform="rotate(103.5 138.1 416.1)" fill="#bdbdbd"/>
<ellipse cx="132.1" cy="417.4" rx="0.5" ry="1.1" transform="rotate(105.8 132.1 417.4)" fill="#a8a8a8"/>
<ellipse cx="127.6" cy="413.4" rx="0.6" ry="1.4" transform="rotate(108.0 127.6 413.4)" fill="#bdbdbd"/>
<ellipse cx="121.5" cy="414.4" rx="0.5" ry="1.1" transform="rotate(110.2 121.5 414.4)" fill="#a8a8a8"/>
<ellipse cx="117.5" cy="409.7" rx="0.6" ry="1.4" transform="rotate(112.5 117.5 409.7)" fill="#bdbdbd"/>
<ellipse cx="111.4" cy="410.2" rx="0.5" ry="1.1" transform="rotate(114.7 111.4 410.2)" fill="#a8a8a8"/>
<ellipse cx="107.6" cy="405.4" rx="0.6" ry="1.4" transform="rotate(117.0 107.6 405.4)" fill="#bdbdbd"/>
<ellipse cx="101.5" cy="405.2" rx="0.5" ry="1.1" transform="rotate(119.3 101.5 405.2)" fill="#a8a8a8"/>
<ellipse cx="98.3" cy="400" rx="0.6" ry="1.4" transform="rotate(121.5 98.3 400)" fill="#bdbdbd"/>
<ellipse cx="92.6" cy="398.8" rx="0.5" ry="1.1" transform="rotate(123.7 92.6 398.8)" fill="#a8a8a8"/>
<ellipse cx="89.3" cy="394.1" rx="0.6" ry="1.4" transform="rotate(126.0 89.3 394.1)" fill="#bdbdbd"/>
<ellipse cx="83.3" cy="393" rx="0.5" ry="1.1" transform="rotate(128.2 83.3 393)" fill="#a8a8a8"/>
<ellipse cx="80.8" cy="387.5" rx="0.6" ry="1.4" transform="rotate(130.5 80.8 387.5)" fill="#bdbdbd"/>
<ellipse cx="75.2" cy="385.6" rx="0.5" ry="1.1" transform="rotate(132.8 75.2 385.6)" fill="#a8a8a8"/>
<ellipse cx="73" cy="380" rx="0.6" ry="1.4" transform="rotate(135.0 73 380)" fill="#bdbdbd"/>
<ellipse cx="67.7" cy="377.6" rx="0.5" ry="1.1" transform="rotate(137.2 67.7 377.6)" fill="#a8a8a8"/>
<ellipse cx="65.6" cy="372.2" rx="0.6" ry="1.4" transform="rotate(139.5 65.6 372.2)" fill="#bdbdbd"/>
<ellipse cx="60.3" cy="369.5" rx="0.5" ry="1.1" transform="rotate(141.8 60.3 369.5)" fill="#a8a8a8"/>
<ellipse cx="59.3" cy="363.4" rx="0.6" ry="1.4" transform="rotate(144.0 59.3 363.4)" fill="#bdbdbd"/>
<ellipse cx="54.3" cy="360.3" rx="0.5" ry="1.1" transform="rotate(146.2 54.3 360.3)" fill="#a8a8a8"/>
<ellipse cx="52.9" cy="354.8" rx="0.6" ry="1.4" transform="rotate(148.5 52.9 354.8)" fill="#bdbdbd"/>
<ellipse cx="47.8" cy="351.5" rx="0.5" ry="1.1" transform="rotate(150.8 47.8 351.5)" fill="#a8a8a8"/>
<ellipse cx="48.3" cy="345" rx="0.6" ry="1.4" transform="rotate(153.0 48.3 345)" fill="#bdbdbd"/>
<ellipse cx="43" cy="341.6" rx="0.5" ry="1.1" transform="rotate(155.2 43 341.6)" fill="#a8a8a8"/>
<ellipse cx="43.5" cy="335.4" rx="0.6" ry="1.4" transform="rotate(157.5 43.5 335.4)" fill="#bdbdbd"/>
<ellipse cx="39.4" cy="331.2" rx="0.5" ry="1.1" transform="rotate(159.8 39.4 331.2)" fill="#a8a8a8"/>
<ellipse cx="39.9" cy="325.3" rx="0.6" ry="1.4" transform="rotate(162.0 39.9 325.3)" fill="#bdbdbd"/>
<ellipse cx="35.4" cy="321" rx="0.5" ry="1.1" transform="rotate(164.2 35.4 321)" fill="#a8a8a8"/>
<ellipse cx="36.4" cy="315.1" rx="0.6" ry="1.4" transform="rotate(166.5 36.4 315.1)" fill="#bdbdbd"/>
<ellipse cx="33.5" cy="310.1" rx="0.5" ry="1.1" transform="rotate(168.8 33.5 310.1)" fill="#a8a8a8"/>
<ellipse cx="34.6" cy="304.4" rx="0.6" ry="1.4" transform="rotate(171.0 34.6 304.4)" fill="#bdbdbd"/>
<ellipse cx="31.8" cy="299.4" rx="0.5" ry="1.1" transform="rotate(173.2 31.8 299.4)" fill="#a8a8a8"/>
<ellipse cx="33.2" cy="293.8" rx="0.6" ry="1.4" transform="rotate(175.5 33.2 293.8)" fill="#bdbdbd"/>
<ellipse cx="30.7" cy="288.5" rx="0.5" ry="1.1" transform="rotate(177.8 30.7 288.5)" fill="#a8a8a8"/>
<ellipse cx="32.6" cy="283" rx="0.6" ry="1.4" transform="rotate(180.0 32.6 283)" fill="#bdbdbd"/>
<ellipse cx="30" cy="277.5" rx="0.5" ry="1.1" transform="rotate(182.2 30 277.5)" fill="#a8a8a8"/>
<ellipse cx="33.4" cy="272.3" rx="0.6" ry="1.4" transform="rotate(184.5 33.4 272.3)" fill="#bdbdbd"/>
<ellipse cx="30.9" cy="266.5" rx="0.5" ry="1.1" transform="rotate(186.8 30.9 266.5)" fill="#a8a8a8"/>
<ellipse cx="34.9" cy="261.6" rx="0.6" ry="1.4" transform="rotate(189.0 34.9 261.6)" fill="#bdbdbd"/>
<ellipse cx="33.5" cy="255.8" rx="0.5" ry="1.1" transform="rotate(191.2 33.5 255.8)" fill="#a8a8a8"/>
<ellipse cx="36.7" cy="251" rx="0.6" ry="1.4" transform="rotate(193.5 36.7 251)" fill="#bdbdbd"/>
<ellipse cx="36.1" cy="245.2" rx="0.5" ry="1.1" transform="rotate(195.8 36.1 245.2)" fill="#a8a8a8"/>
<ellipse cx="40" cy="240.8" rx="0.6" ry="1.4" transform="rotate(198.0 40 240.8)" fill="#bdbdbd"/>
<ellipse cx="39.1" cy="234.7" rx="0.5" ry="1.1" transform="rotate(200.2 39.1 234.7)" fill="#a8a8a8"/>
<ellipse cx="43.3" cy="230.5" rx="0.6" ry="1.4" transform="rotate(202.5 43.3 230.5)" fill="#bdbdbd"/>
<ellipse cx="43.5" cy="224.7" rx="0.5" ry="1.1" transform="rotate(204.8 43.5 224.7)" fill="#a8a8a8"/>
<ellipse cx="48.3" cy="221" rx="0.6" ry="1.4" transform="rotate(207.0 48.3 221)" fill="#bdbdbd"/>
<ellipse cx="47.9" cy="214.6" rx="0.5" ry="1.1" transform="rotate(209.2 47.9 214.6)" fill="#a8a8a8"/>
<ellipse cx="53.3" cy="211.5" rx="0.6" ry="1.4" transform="rotate(211.5 53.3 211.5)" fill="#bdbdbd"/>
<ellipse cx="53.5" cy="205.2" rx="0.5" ry="1.1" transform="rotate(213.8 53.5 205.2)" fill="#a8a8a8"/>
<ellipse cx="58.8" cy="202.2" rx="0.6" ry="1.4" transform="rotate(216.0 58.8 202.2)" fill="#bdbdbd"/>
<ellipse cx="60.5" cy="196.7" rx="0.5" ry="1.1" transform="rotate(218.2 60.5 196.7)" fill="#a8a8a8"/>
<ellipse cx="65.9" cy="194.1" rx="0.6" ry="1.4" transform="rotate(220.5 65.9 194.1)" fill="#bdbdbd"/>
<ellipse cx="67.5" cy="188.2" rx="0.5" ry="1.1" transform="rotate(222.8 67.5 188.2)" fill="#a8a8a8"/>
<ellipse cx="73" cy="186" rx="0.6" ry="1.4" transform="rotate(225.0 73 186)" fill="#bdbdbd"/>
<ellipse cx="75.2" cy="180.4" rx="0.5" ry="1.1" transform="rotate(227.2 75.2 180.4)" fill="#a8a8a8"/>
<ellipse cx="81" cy="178.8" rx="0.6" ry="1.4" transform="rotate(229.5 81 178.8)" fill="#bdbdbd"/>
<ellipse cx="83.5" cy="173.3" rx="0.5" ry="1.1" transform="rotate(231.8 83.5 173.3)" fill="#a8a8a8"/>
<ellipse cx="89.2" cy="171.8" rx="0.6" ry="1.4" transform="rotate(234.0 89.2 171.8)" fill="#bdbdbd"/>
<ellipse cx="92.4" cy="166.9" rx="0.5" ry="1.1" transform="rotate(236.2 92.4 166.9)" fill="#a8a8a8"/>
<ellipse cx="98.5" cy="166.2" rx="0.6" ry="1.4" transform="rotate(238.5 98.5 166.2)" fill="#bdbdbd"/>
<ellipse cx="101.7" cy="161" rx="0.5" ry="1.1" transform="rotate(240.8 101.7 161)" fill="#a8a8a8"/>
<ellipse cx="107.9" cy="161.2" rx="0.6" ry="1.4" transform="rotate(243.0 107.9 161.2)" fill="#bdbdbd"/>
<ellipse cx="111.6" cy="156.4" rx="0.5" ry="1.1" transform="rotate(245.2 111.6 156.4)" fill="#a8a8a8"/>
<ellipse cx="117.4" cy="156" rx="0.6" ry="1.4" transform="rotate(247.5 117.4 156)" fill="#bdbdbd"/>
<ellipse cx="121.7" cy="152" rx="0.5" ry="1.1" transform="rotate(249.8 121.7 152)" fill="#a8a8a8"/>
<ellipse cx="127.6" cy="152.7" rx="0.6" ry="1.4" transform="rotate(252.0 127.6 152.7)" fill="#bdbdbd"/>
<ellipse cx="132.2" cy="149.1" rx="0.5" ry="1.1" transform="rotate(254.2 132.2 149.1)" fill="#a8a8a8"/>
<ellipse cx="138" cy="149.9" rx="0.6" ry="1.4" transform="rotate(256.5 138 149.9)" fill="#bdbdbd"/>
<ellipse cx="142.7" cy="146" rx="0.5" ry="1.1" transform="rotate(258.8 142.7 146)" fill="#a8a8a8"/>
<ellipse cx="148.6" cy="148.2" rx="0.6" ry="1.4" transform="rotate(261.0 148.6 148.2)" fill="#bdbdbd"/>
<ellipse cx="153.6" cy="144.3" rx="0.5" ry="1.1" transform="rotate(263.2 153.6 144.3)" fill="#a8a8a8"/>
<ellipse cx="159.2" cy="146.3" rx="0.6" ry="1.4" transform="rotate(265.5 159.2 146.3)" fill="#bdbdbd"/>
<ellipse cx="164.5" cy="143.9" rx="0.5" ry="1.1" transform="rotate(267.8 164.5 143.9)" fill="#a8a8a8"/>
<ellipse cx="170" cy="145.9" rx="0.6" ry="1.4" transform="rotate(270.0 170 145.9)" fill="#bdbdbd"/>
<ellipse cx="175.5" cy="143.5" rx="0.5" ry="1.1" transform="rotate(272.2 175.5 143.5)" fill="#a8a8a8"/>
<ellipse cx="180.8" cy="146.2" rx="0.6" ry="1.4" transform="rotate(274.5 180.8 146.2)" fill="#bdbdbd"/>
<ellipse cx="186.4" cy="144.5" rx="0.5" ry="1.1" transform="rotate(276.8 186.4 144.5)" fill="#a8a8a8"/>
<ellipse cx="191.5" cy="147.5" rx="0.6" ry="1.4" transform="rotate(279.0 191.5 147.5)" fill="#bdbdbd"/>
<ellipse cx="197.3" cy="145.8" rx="0.5" ry="1.1" transform="rotate(281.2 197.3 145.8)" fill="#a8a8a8"/>
<ellipse cx="201.9" cy="150.2" rx="0.6" ry="1.4" transform="rotate(283.5 201.9 150.2)" fill="#bdbdbd"/>
<ellipse cx="207.8" cy="149.1" rx="0.5" ry="1.1" transform="rotate(285.8 207.8 149.1)" fill="#a8a8a8"/>
<ellipse cx="212.4" cy="152.5" rx="0.6" ry="1.4" transform="rotate(288.0 212.4 152.5)" fill="#bdbdbd"/>
<ellipse cx="218.5" cy="151.6" rx="0.5" ry="1.1" transform="rotate(290.2 218.5 151.6)" fill="#a8a8a8"/>
<ellipse cx="222.3" cy="156.7" rx="0.6" ry="1.4" transform="rotate(292.5 222.3 156.7)" fill="#bdbdbd"/>
<ellipse cx="228.4" cy="156.3" rx="0.5" ry="1.1" transform="rotate(294.8 228.4 156.3)" fill="#a8a8a8"/>
<ellipse cx="232.2" cy="160.8" rx="0.6" ry="1.4" transform="rotate(297.0 232.2 160.8)" fill="#bdbdbd"/>
<ellipse cx="238.1" cy="161.4" rx="0.5" ry="1.1" transform="rotate(299.2 238.1 161.4)" fill="#a8a8a8"/>
<ellipse cx="241.5" cy="166.3" rx="0.6" ry="1.4" transform="rotate(301.5 241.5 166.3)" fill="#bdbdbd"/>
<ellipse cx="247.5" cy="167.1" rx="0.5" ry="1.1" transform="rotate(303.8 247.5 167.1)" fill="#a8a8a8"/>
<ellipse cx="250.4" cy="172.3" rx="0.6" ry="1.4" transform="rotate(306.0 250.4 172.3)" fill="#bdbdbd"/>
<ellipse cx="256.5" cy="173.3" rx="0.5" ry="1.1" transform="rotate(308.2 256.5 173.3)" fill="#a8a8a8"/>
<ellipse cx="258.8" cy="179" rx="0.6" ry="1.4" transform="rotate(310.5 258.8 179)" fill="#bdbdbd"/>
<ellipse cx="264.7" cy="180.6" rx="0.5" ry="1.1" transform="rotate(312.8 264.7 180.6)" fill="#a8a8a8"/>
<ellipse cx="267.1" cy="185.9" rx="0.6" ry="1.4" transform="rotate(315.0 267.1 185.9)" fill="#bdbdbd"/>
<ellipse cx="272.2" cy="188.6" rx="0.5" ry="1.1" transform="rotate(317.2 272.2 188.6)" fill="#a8a8a8"/>
<ellipse cx="274.2" cy="194" rx="0.6" ry="1.4" transform="rotate(319.5 274.2 194)" fill="#bdbdbd"/>
<ellipse cx="279.8" cy="196.4" rx="0.5" ry="1.1" transform="rotate(321.8 279.8 196.4)" fill="#a8a8a8"/>
<ellipse cx="280.7" cy="202.6" rx="0.6" ry="1.4" transform="rotate(324.0 280.7 202.6)" fill="#bdbdbd"/>
<ellipse cx="285.8" cy="205.6" rx="0.5" ry="1.1" transform="rotate(326.2 285.8 205.6)" fill="#a8a8a8"/>
<ellipse cx="287.1" cy="211.3" rx="0.6" ry="1.4" transform="rotate(328.5 287.1 211.3)" fill="#bdbdbd"/>
<ellipse cx="291.6" cy="214.9" rx="0.5" ry="1.1" transform="rotate(330.8 291.6 214.9)" fill="#a8a8a8"/>
<ellipse cx="291.8" cy="220.9" rx="0.6" ry="1.4" transform="rotate(333.0 291.8 220.9)" fill="#bdbdbd"/>
<ellipse cx="296.7" cy="224.6" rx="0.5" ry="1.1" transform="rotate(335.2 296.7 224.6)" fill="#a8a8a8"/>
<ellipse cx="296.8" cy="230.5" rx="0.6" ry="1.4" transform="rotate(337.5 296.8 230.5)" fill="#bdbdbd"/>
<ellipse cx="300.6" cy="234.8" rx="0.5" ry="1.1" transform="rotate(339.8 300.6 234.8)" fill="#a8a8a8"/>
<ellipse cx="300.1" cy="240.7" rx="0.6" ry="1.4" transform="rotate(342.0 300.1 240.7)" fill="#bdbdbd"/>
<ellipse cx="304.2" cy="245.2" rx="0.5" ry="1.1" transform="rotate(344.2 304.2 245.2)" fill="#a8a8a8"/>
<ellipse cx="303.5" cy="250.9" rx="0.6" ry="1.4" transform="rotate(346.5 303.5 250.9)" fill="#bdbdbd"/>
<ellipse cx="306.9" cy="255.8" rx="0.5" ry="1.1" transform="rotate(348.8 306.9 255.8)" fill="#a8a8a8"/>
<ellipse cx="305.7" cy="261.5" rx="0.6" ry="1.4" transform="rotate(351.0 305.7 261.5)" fill="#bdbdbd"/>
<ellipse cx="308.3" cy="266.6" rx="0.5" ry="1.1" transform="rotate(353.2 308.3 266.6)" fill="#a8a8a8"/>
<ellipse cx="306.4" cy="272.3" rx="0.6" ry="1.4" transform="rotate(355.5 306.4 272.3)" fill="#bdbdbd"/>
<ellipse cx="309.6" cy="277.5" rx="0.5" ry="1.1" transform="rotate(357.8 309.6 277.5)" fill="#a8a8a8"/>
<circle cx="170" cy="283" r="110.5" fill="none" stroke="#060606" stroke-width="17.5"/>
<circle cx="170" cy="283" r="101.8" fill="#ffffff"/>
<circle cx="170" cy="283" r="68.8" fill="none" stroke="#161616" stroke-width="9.8"/>
<circle cx="170" cy="283" r="68.8" fill="none" stroke="#626262" stroke-width="6.2"/>
<circle cx="170" cy="283" r="68.6" fill="none" stroke="#878787" stroke-width="2.2"/>
<clipPath id="cc"><circle cx="170" cy="283" r="46.9"/></clipPath>
<circle cx="170" cy="283" r="49.3" fill="#1a0e02" stroke="#2b2b30" stroke-width="2.6"/>
<g fill="#f7bb1c" clip-path="url(#cc)"><polygon points="123.9,272.9 122.4,275.6 119.5,275.6 118,272.9 119.5,270.2 122.4,270.2"/><polygon points="123.9,280.1 122.4,282.8 119.5,282.8 118,280.1 119.5,277.4 122.4,277.4"/><polygon points="123.9,287.3 122.4,290 119.5,290 118,287.3 119.5,284.6 122.4,284.6"/><polygon points="123.9,294.5 122.4,297.2 119.5,297.2 118,294.5 119.5,291.8 122.4,291.8"/><polygon points="130,262.1 128.6,264.8 125.6,264.8 124.1,262.1 125.6,259.4 128.6,259.4"/><polygon points="130,269.3 128.6,272 125.6,272 124.1,269.3 125.6,266.6 128.6,266.6"/><polygon points="130,276.5 128.6,279.2 125.6,279.2 124.1,276.5 125.6,273.8 128.6,273.8"/><polygon points="130,283.7 128.6,286.4 125.6,286.4 124.1,283.7 125.6,281 128.6,281"/><polygon points="130,290.9 128.6,293.6 125.6,293.6 124.1,290.9 125.6,288.2 128.6,288.2"/><polygon points="130,298.1 128.6,300.8 125.6,300.8 124.1,298.1 125.6,295.4 128.6,295.4"/><polygon points="130,305.3 128.6,308 125.6,308 124.1,305.3 125.6,302.6 128.6,302.6"/><polygon points="136.2,251.3 134.7,254 131.7,254 130.3,251.3 131.7,248.6 134.7,248.6"/><polygon points="136.2,258.5 134.7,261.2 131.7,261.2 130.3,258.5 131.7,255.8 134.7,255.8"/><polygon points="136.2,265.7 134.7,268.4 131.7,268.4 130.3,265.7 131.7,263 134.7,263"/><polygon points="136.2,272.9 134.7,275.6 131.7,275.6 130.3,272.9 131.7,270.2 134.7,270.2"/><polygon points="136.2,280.1 134.7,282.8 131.7,282.8 130.3,280.1 131.7,277.4 134.7,277.4"/><polygon points="136.2,287.3 134.7,290 131.7,290 130.3,287.3 131.7,284.6 134.7,284.6"/><polygon points="136.2,294.5 134.7,297.2 131.7,297.2 130.3,294.5 131.7,291.8 134.7,291.8"/><polygon points="136.2,301.7 134.7,304.4 131.7,304.4 130.3,301.7 131.7,299 134.7,299"/><polygon points="136.2,308.9 134.7,311.6 131.7,311.6 130.3,308.9 131.7,306.2 134.7,306.2"/><polygon points="136.2,316.1 134.7,318.8 131.7,318.8 130.3,316.1 131.7,313.4 134.7,313.4"/><polygon points="142.3,247.7 140.8,250.4 137.9,250.4 136.4,247.7 137.9,245 140.8,245"/><polygon points="142.3,254.9 140.8,257.6 137.9,257.6 136.4,254.9 137.9,252.2 140.8,252.2"/><polygon points="142.3,262.1 140.8,264.8 137.9,264.8 136.4,262.1 137.9,259.4 140.8,259.4"/><polygon points="142.3,269.3 140.8,272 137.9,272 136.4,269.3 137.9,266.6 140.8,266.6"/><polygon points="142.3,276.5 140.8,279.2 137.9,279.2 136.4,276.5 137.9,273.8 140.8,273.8"/><polygon points="142.3,283.7 140.8,286.4 137.9,286.4 136.4,283.7 137.9,281 140.8,281"/><polygon points="142.3,290.9 140.8,293.6 137.9,293.6 136.4,290.9 137.9,288.2 140.8,288.2"/><polygon points="142.3,298.1 140.8,300.8 137.9,300.8 136.4,298.1 137.9,295.4 140.8,295.4"/><polygon points="142.3,305.3 140.8,308 137.9,308 136.4,305.3 137.9,302.6 140.8,302.6"/><polygon points="142.3,312.5 140.8,315.2 137.9,315.2 136.4,312.5 137.9,309.8 140.8,309.8"/><polygon points="142.3,319.7 140.8,322.4 137.9,322.4 136.4,319.7 137.9,317 140.8,317"/><polygon points="148.4,244.1 147,246.8 144,246.8 142.5,244.1 144,241.4 147,241.4"/><polygon points="148.4,251.3 147,254 144,254 142.5,251.3 144,248.6 147,248.6"/><polygon points="148.4,258.5 147,261.2 144,261.2 142.5,258.5 144,255.8 147,255.8"/><polygon points="148.4,265.7 147,268.4 144,268.4 142.5,265.7 144,263 147,263"/><polygon points="148.4,272.9 147,275.6 144,275.6 142.5,272.9 144,270.2 147,270.2"/><polygon points="148.4,280.1 147,282.8 144,282.8 142.5,280.1 144,277.4 147,277.4"/><polygon points="148.4,287.3 147,290 144,290 142.5,287.3 144,284.6 147,284.6"/><polygon points="148.4,294.5 147,297.2 144,297.2 142.5,294.5 144,291.8 147,291.8"/><polygon points="148.4,301.7 147,304.4 144,304.4 142.5,301.7 144,299 147,299"/><polygon points="148.4,308.9 147,311.6 144,311.6 142.5,308.9 144,306.2 147,306.2"/><polygon points="148.4,316.1 147,318.8 144,318.8 142.5,316.1 144,313.4 147,313.4"/><polygon points="148.4,323.3 147,326 144,326 142.5,323.3 144,320.6 147,320.6"/><polygon points="154.6,240.5 153.1,243.2 150.1,243.2 148.7,240.5 150.1,237.8 153.1,237.8"/><polygon points="154.6,247.7 153.1,250.4 150.1,250.4 148.7,247.7 150.1,245 153.1,245"/><polygon points="154.6,254.9 153.1,257.6 150.1,257.6 148.7,254.9 150.1,252.2 153.1,252.2"/><polygon points="154.6,262.1 153.1,264.8 150.1,264.8 148.7,262.1 150.1,259.4 153.1,259.4"/><polygon points="154.6,269.3 153.1,272 150.1,272 148.7,269.3 150.1,266.6 153.1,266.6"/><polygon points="154.6,276.5 153.1,279.2 150.1,279.2 148.7,276.5 150.1,273.8 153.1,273.8"/><polygon points="154.6,283.7 153.1,286.4 150.1,286.4 148.7,283.7 150.1,281 153.1,281"/><polygon points="154.6,290.9 153.1,293.6 150.1,293.6 148.7,290.9 150.1,288.2 153.1,288.2"/><polygon points="154.6,298.1 153.1,300.8 150.1,300.8 148.7,298.1 150.1,295.4 153.1,295.4"/><polygon points="154.6,305.3 153.1,308 150.1,308 148.7,305.3 150.1,302.6 153.1,302.6"/><polygon points="154.6,312.5 153.1,315.2 150.1,315.2 148.7,312.5 150.1,309.8 153.1,309.8"/><polygon points="154.6,319.7 153.1,322.4 150.1,322.4 148.7,319.7 150.1,317 153.1,317"/><polygon points="154.6,326.9 153.1,329.6 150.1,329.6 148.7,326.9 150.1,324.2 153.1,324.2"/><polygon points="160.7,236.9 159.2,239.6 156.3,239.6 154.8,236.9 156.3,234.2 159.2,234.2"/><polygon points="160.7,244.1 159.2,246.8 156.3,246.8 154.8,244.1 156.3,241.4 159.2,241.4"/><polygon points="160.7,251.3 159.2,254 156.3,254 154.8,251.3 156.3,248.6 159.2,248.6"/><polygon points="160.7,258.5 159.2,261.2 156.3,261.2 154.8,258.5 156.3,255.8 159.2,255.8"/><polygon points="160.7,265.7 159.2,268.4 156.3,268.4 154.8,265.7 156.3,263 159.2,263"/><polygon points="160.7,272.9 159.2,275.6 156.3,275.6 154.8,272.9 156.3,270.2 159.2,270.2"/><polygon points="160.7,280.1 159.2,282.8 156.3,282.8 154.8,280.1 156.3,277.4 159.2,277.4"/><polygon points="160.7,287.3 159.2,290 156.3,290 154.8,287.3 156.3,284.6 159.2,284.6"/><polygon points="160.7,294.5 159.2,297.2 156.3,297.2 154.8,294.5 156.3,291.8 159.2,291.8"/><polygon points="160.7,301.7 159.2,304.4 156.3,304.4 154.8,301.7 156.3,299 159.2,299"/><polygon points="160.7,308.9 159.2,311.6 156.3,311.6 154.8,308.9 156.3,306.2 159.2,306.2"/><polygon points="160.7,316.1 159.2,318.8 156.3,318.8 154.8,316.1 156.3,313.4 159.2,313.4"/><polygon points="160.7,323.3 159.2,326 156.3,326 154.8,323.3 156.3,320.6 159.2,320.6"/><polygon points="160.7,330.5 159.2,333.2 156.3,333.2 154.8,330.5 156.3,327.8 159.2,327.8"/><polygon points="166.8,233.3 165.3,236 162.4,236 160.9,233.3 162.4,230.6 165.3,230.6"/><polygon points="166.8,240.5 165.3,243.2 162.4,243.2 160.9,240.5 162.4,237.8 165.3,237.8"/><polygon points="166.8,247.7 165.3,250.4 162.4,250.4 160.9,247.7 162.4,245 165.3,245"/><polygon points="166.8,254.9 165.3,257.6 162.4,257.6 160.9,254.9 162.4,252.2 165.3,252.2"/><polygon points="166.8,262.1 165.3,264.8 162.4,264.8 160.9,262.1 162.4,259.4 165.3,259.4"/><polygon points="166.8,269.3 165.3,272 162.4,272 160.9,269.3 162.4,266.6 165.3,266.6"/><polygon points="166.8,276.5 165.3,279.2 162.4,279.2 160.9,276.5 162.4,273.8 165.3,273.8"/><polygon points="166.8,283.7 165.3,286.4 162.4,286.4 160.9,283.7 162.4,281 165.3,281"/><polygon points="166.8,290.9 165.3,293.6 162.4,293.6 160.9,290.9 162.4,288.2 165.3,288.2"/><polygon points="166.8,298.1 165.3,300.8 162.4,300.8 160.9,298.1 162.4,295.4 165.3,295.4"/><polygon points="166.8,305.3 165.3,308 162.4,308 160.9,305.3 162.4,302.6 165.3,302.6"/><polygon points="166.8,312.5 165.3,315.2 162.4,315.2 160.9,312.5 162.4,309.8 165.3,309.8"/><polygon points="166.8,319.7 165.3,322.4 162.4,322.4 160.9,319.7 162.4,317 165.3,317"/><polygon points="166.8,326.9 165.3,329.6 162.4,329.6 160.9,326.9 162.4,324.2 165.3,324.2"/><polygon points="172.9,236.9 171.5,239.6 168.5,239.6 167.1,236.9 168.5,234.2 171.5,234.2"/><polygon points="172.9,244.1 171.5,246.8 168.5,246.8 167.1,244.1 168.5,241.4 171.5,241.4"/><polygon points="172.9,251.3 171.5,254 168.5,254 167.1,251.3 168.5,248.6 171.5,248.6"/><polygon points="172.9,258.5 171.5,261.2 168.5,261.2 167.1,258.5 168.5,255.8 171.5,255.8"/><polygon points="172.9,265.7 171.5,268.4 168.5,268.4 167.1,265.7 168.5,263 171.5,263"/><polygon points="172.9,272.9 171.5,275.6 168.5,275.6 167.1,272.9 168.5,270.2 171.5,270.2"/><polygon points="172.9,280.1 171.5,282.8 168.5,282.8 167.1,280.1 168.5,277.4 171.5,277.4"/><polygon points="172.9,287.3 171.5,290 168.5,290 167.1,287.3 168.5,284.6 171.5,284.6"/><polygon points="172.9,294.5 171.5,297.2 168.5,297.2 167.1,294.5 168.5,291.8 171.5,291.8"/><polygon points="172.9,301.7 171.5,304.4 168.5,304.4 167.1,301.7 168.5,299 171.5,299"/><polygon points="172.9,308.9 171.5,311.6 168.5,311.6 167.1,308.9 168.5,306.2 171.5,306.2"/><polygon points="172.9,316.1 171.5,318.8 168.5,318.8 167.1,316.1 168.5,313.4 171.5,313.4"/><polygon points="172.9,323.3 171.5,326 168.5,326 167.1,323.3 168.5,320.6 171.5,320.6"/><polygon points="172.9,330.5 171.5,333.2 168.5,333.2 167.1,330.5 168.5,327.8 171.5,327.8"/><polygon points="179.1,233.3 177.6,236 174.7,236 173.2,233.3 174.7,230.6 177.6,230.6"/><polygon points="179.1,240.5 177.6,243.2 174.7,243.2 173.2,240.5 174.7,237.8 177.6,237.8"/><polygon points="179.1,247.7 177.6,250.4 174.7,250.4 173.2,247.7 174.7,245 177.6,245"/><polygon points="179.1,254.9 177.6,257.6 174.7,257.6 173.2,254.9 174.7,252.2 177.6,252.2"/><polygon points="179.1,262.1 177.6,264.8 174.7,264.8 173.2,262.1 174.7,259.4 177.6,259.4"/><polygon points="179.1,269.3 177.6,272 174.7,272 173.2,269.3 174.7,266.6 177.6,266.6"/><polygon points="179.1,276.5 177.6,279.2 174.7,279.2 173.2,276.5 174.7,273.8 177.6,273.8"/><polygon points="179.1,283.7 177.6,286.4 174.7,286.4 173.2,283.7 174.7,281 177.6,281"/><polygon points="179.1,290.9 177.6,293.6 174.7,293.6 173.2,290.9 174.7,288.2 177.6,288.2"/><polygon points="179.1,298.1 177.6,300.8 174.7,300.8 173.2,298.1 174.7,295.4 177.6,295.4"/><polygon points="179.1,305.3 177.6,308 174.7,308 173.2,305.3 174.7,302.6 177.6,302.6"/><polygon points="179.1,312.5 177.6,315.2 174.7,315.2 173.2,312.5 174.7,309.8 177.6,309.8"/><polygon points="179.1,319.7 177.6,322.4 174.7,322.4 173.2,319.7 174.7,317 177.6,317"/><polygon points="179.1,326.9 177.6,329.6 174.7,329.6 173.2,326.9 174.7,324.2 177.6,324.2"/><polygon points="185.2,236.9 183.7,239.6 180.8,239.6 179.3,236.9 180.8,234.2 183.7,234.2"/><polygon points="185.2,244.1 183.7,246.8 180.8,246.8 179.3,244.1 180.8,241.4 183.7,241.4"/><polygon points="185.2,251.3 183.7,254 180.8,254 179.3,251.3 180.8,248.6 183.7,248.6"/><polygon points="185.2,258.5 183.7,261.2 180.8,261.2 179.3,258.5 180.8,255.8 183.7,255.8"/><polygon points="185.2,265.7 183.7,268.4 180.8,268.4 179.3,265.7 180.8,263 183.7,263"/><polygon points="185.2,272.9 183.7,275.6 180.8,275.6 179.3,272.9 180.8,270.2 183.7,270.2"/><polygon points="185.2,280.1 183.7,282.8 180.8,282.8 179.3,280.1 180.8,277.4 183.7,277.4"/><polygon points="185.2,287.3 183.7,290 180.8,290 179.3,287.3 180.8,284.6 183.7,284.6"/><polygon points="185.2,294.5 183.7,297.2 180.8,297.2 179.3,294.5 180.8,291.8 183.7,291.8"/><polygon points="185.2,301.7 183.7,304.4 180.8,304.4 179.3,301.7 180.8,299 183.7,299"/><polygon points="185.2,308.9 183.7,311.6 180.8,311.6 179.3,308.9 180.8,306.2 183.7,306.2"/><polygon points="185.2,316.1 183.7,318.8 180.8,318.8 179.3,316.1 180.8,313.4 183.7,313.4"/><polygon points="185.2,323.3 183.7,326 180.8,326 179.3,323.3 180.8,320.6 183.7,320.6"/><polygon points="185.2,330.5 183.7,333.2 180.8,333.2 179.3,330.5 180.8,327.8 183.7,327.8"/><polygon points="191.3,240.5 189.9,243.2 186.9,243.2 185.4,240.5 186.9,237.8 189.9,237.8"/><polygon points="191.3,247.7 189.9,250.4 186.9,250.4 185.4,247.7 186.9,245 189.9,245"/><polygon points="191.3,254.9 189.9,257.6 186.9,257.6 185.4,254.9 186.9,252.2 189.9,252.2"/><polygon points="191.3,262.1 189.9,264.8 186.9,264.8 185.4,262.1 186.9,259.4 189.9,259.4"/><polygon points="191.3,269.3 189.9,272 186.9,272 185.4,269.3 186.9,266.6 189.9,266.6"/><polygon points="191.3,276.5 189.9,279.2 186.9,279.2 185.4,276.5 186.9,273.8 189.9,273.8"/><polygon points="191.3,283.7 189.9,286.4 186.9,286.4 185.4,283.7 186.9,281 189.9,281"/><polygon points="191.3,290.9 189.9,293.6 186.9,293.6 185.4,290.9 186.9,288.2 189.9,288.2"/><polygon points="191.3,298.1 189.9,300.8 186.9,300.8 185.4,298.1 186.9,295.4 189.9,295.4"/><polygon points="191.3,305.3 189.9,308 186.9,308 185.4,305.3 186.9,302.6 189.9,302.6"/><polygon points="191.3,312.5 189.9,315.2 186.9,315.2 185.4,312.5 186.9,309.8 189.9,309.8"/><polygon points="191.3,319.7 189.9,322.4 186.9,322.4 185.4,319.7 186.9,317 189.9,317"/><polygon points="191.3,326.9 189.9,329.6 186.9,329.6 185.4,326.9 186.9,324.2 189.9,324.2"/><polygon points="197.5,244.1 196,246.8 193,246.8 191.6,244.1 193,241.4 196,241.4"/><polygon points="197.5,251.3 196,254 193,254 191.6,251.3 193,248.6 196,248.6"/><polygon points="197.5,258.5 196,261.2 193,261.2 191.6,258.5 193,255.8 196,255.8"/><polygon points="197.5,265.7 196,268.4 193,268.4 191.6,265.7 193,263 196,263"/><polygon points="197.5,272.9 196,275.6 193,275.6 191.6,272.9 193,270.2 196,270.2"/><polygon points="197.5,280.1 196,282.8 193,282.8 191.6,280.1 193,277.4 196,277.4"/><polygon points="197.5,287.3 196,290 193,290 191.6,287.3 193,284.6 196,284.6"/><polygon points="197.5,294.5 196,297.2 193,297.2 191.6,294.5 193,291.8 196,291.8"/><polygon points="197.5,301.7 196,304.4 193,304.4 191.6,301.7 193,299 196,299"/><polygon points="197.5,308.9 196,311.6 193,311.6 191.6,308.9 193,306.2 196,306.2"/><polygon points="197.5,316.1 196,318.8 193,318.8 191.6,316.1 193,313.4 196,313.4"/><polygon points="197.5,323.3 196,326 193,326 191.6,323.3 193,320.6 196,320.6"/><polygon points="203.6,247.7 202.1,250.4 199.2,250.4 197.7,247.7 199.2,245 202.1,245"/><polygon points="203.6,254.9 202.1,257.6 199.2,257.6 197.7,254.9 199.2,252.2 202.1,252.2"/><polygon points="203.6,262.1 202.1,264.8 199.2,264.8 197.7,262.1 199.2,259.4 202.1,259.4"/><polygon points="203.6,269.3 202.1,272 199.2,272 197.7,269.3 199.2,266.6 202.1,266.6"/><polygon points="203.6,276.5 202.1,279.2 199.2,279.2 197.7,276.5 199.2,273.8 202.1,273.8"/><polygon points="203.6,283.7 202.1,286.4 199.2,286.4 197.7,283.7 199.2,281 202.1,281"/><polygon points="203.6,290.9 202.1,293.6 199.2,293.6 197.7,290.9 199.2,288.2 202.1,288.2"/><polygon points="203.6,298.1 202.1,300.8 199.2,300.8 197.7,298.1 199.2,295.4 202.1,295.4"/><polygon points="203.6,305.3 202.1,308 199.2,308 197.7,305.3 199.2,302.6 202.1,302.6"/><polygon points="203.6,312.5 202.1,315.2 199.2,315.2 197.7,312.5 199.2,309.8 202.1,309.8"/><polygon points="203.6,319.7 202.1,322.4 199.2,322.4 197.7,319.7 199.2,317 202.1,317"/><polygon points="209.7,251.3 208.3,254 205.3,254 203.8,251.3 205.3,248.6 208.3,248.6"/><polygon points="209.7,258.5 208.3,261.2 205.3,261.2 203.8,258.5 205.3,255.8 208.3,255.8"/><polygon points="209.7,265.7 208.3,268.4 205.3,268.4 203.8,265.7 205.3,263 208.3,263"/><polygon points="209.7,272.9 208.3,275.6 205.3,275.6 203.8,272.9 205.3,270.2 208.3,270.2"/><polygon points="209.7,280.1 208.3,282.8 205.3,282.8 203.8,280.1 205.3,277.4 208.3,277.4"/><polygon points="209.7,287.3 208.3,290 205.3,290 203.8,287.3 205.3,284.6 208.3,284.6"/><polygon points="209.7,294.5 208.3,297.2 205.3,297.2 203.8,294.5 205.3,291.8 208.3,291.8"/><polygon points="209.7,301.7 208.3,304.4 205.3,304.4 203.8,301.7 205.3,299 208.3,299"/><polygon points="209.7,308.9 208.3,311.6 205.3,311.6 203.8,308.9 205.3,306.2 208.3,306.2"/><polygon points="209.7,316.1 208.3,318.8 205.3,318.8 203.8,316.1 205.3,313.4 208.3,313.4"/><polygon points="215.9,262.1 214.4,264.8 211.4,264.8 210,262.1 211.4,259.4 214.4,259.4"/><polygon points="215.9,269.3 214.4,272 211.4,272 210,269.3 211.4,266.6 214.4,266.6"/><polygon points="215.9,276.5 214.4,279.2 211.4,279.2 210,276.5 211.4,273.8 214.4,273.8"/><polygon points="215.9,283.7 214.4,286.4 211.4,286.4 210,283.7 211.4,281 214.4,281"/><polygon points="215.9,290.9 214.4,293.6 211.4,293.6 210,290.9 211.4,288.2 214.4,288.2"/><polygon points="215.9,298.1 214.4,300.8 211.4,300.8 210,298.1 211.4,295.4 214.4,295.4"/><polygon points="215.9,305.3 214.4,308 211.4,308 210,305.3 211.4,302.6 214.4,302.6"/><polygon points="222,272.9 220.5,275.6 217.6,275.6 216.1,272.9 217.6,270.2 220.5,270.2"/><polygon points="222,280.1 220.5,282.8 217.6,282.8 216.1,280.1 217.6,277.4 220.5,277.4"/><polygon points="222,287.3 220.5,290 217.6,290 216.1,287.3 217.6,284.6 220.5,284.6"/><polygon points="222,294.5 220.5,297.2 217.6,297.2 216.1,294.5 217.6,291.8 220.5,291.8"/></g>
<path d="M43.1,346.3 A141.8,141.8 0 0 0 73.7,387.0" fill="none" stroke="#e2d83a" stroke-width="4.2" stroke-linecap="round"/>
<ellipse cx="33" cy="283.5" rx="2.4" ry="4.2" fill="#e8de30"/>
<ellipse cx="51.5" cy="252" rx="2.4" ry="4.2" fill="#e8de30" transform="rotate(15 51.5 252)"/>
<path d="M176,279L208.8,250.5" stroke="#1a0f02" stroke-width="1.1" fill="none"/>
<path d="M208.3,250.9L366.6,113.2H409.5M214.5,261L365,148.7H409.5M225.8,269.9L364.5,184.1H409.5M236.2,272.9L364.5,219.6H409.5M241.1,278.5L365,255H409.5M262.6,278.5L366.5,290.5H409.5M289,296.6L362.7,326H409.5M288.4,303.3L358.8,361.4H409.5M292.1,323.6L358.8,396.9H409.5M295.2,335.9L360.7,432.3H409.5" fill="none" stroke="#080808" stroke-width="1.8"/>
<path d="M416,121.00H418.1V104.90H416.6Q414.9,107.70 411.8,109.30V111.40Q414.3,110.30 416,108.70Z" fill="#080808"/>
<path d="M416,440.74H418.1V424.64H416.6Q414.9,427.44 411.8,429.04V431.14Q414.3,430.04 416,428.44Z" fill="#080808"/>
</svg>
<div class="t1">单芯圆钢丝铠装</div>
<div class="t2">Single-core with round steel wire armoured</div>
<div class="lb" style="top:106.50px;transform:scaleX(0.9819)">1.<span class="c">阻水导体</span>Water blocking conductor</div><div class="lb" style="top:142.30px;transform:scaleX(0.9716)">2.<span class="c">导体屏蔽</span>Conductor screen</div><div class="lb" style="top:178.10px;transform:scaleX(0.9293)">3.XLPE<span class="c">绝缘</span>XLPE insulation</div><div class="lb" style="top:213.90px;transform:scaleX(0.9751)">4.<span class="c">绝缘屏蔽</span>Insulation screen</div><div class="lb" style="top:249.70px;transform:scaleX(0.9799)">5.<span class="c">半导电阻水带</span>Semi-conductive Water blocking tape</div><div class="lb" style="top:285.50px;transform:scaleX(0.9589)">6.<span class="c">铅套</span>Lead sheath</div><div class="lb" style="top:321.30px;transform:scaleX(0.9586)">7.<span class="c">半导电</span>PE<span class="c">护套</span>Semi-conductive PE sheath</div><div class="lb" style="top:357.10px;transform:scaleX(0.9733)">8.<span class="c">内衬层</span> Inner serving</div><div class="lb" style="top:392.90px;transform:scaleX(0.9746)">9.<span class="c">铠装层</span> Armour</div><div class="lb" style="top:428.70px;transform:scaleX(0.9662)">10.<span class="c">外被层</span> Outer serving</div><div class="nm" style="top:149.16px;left:411px">2</div><div class="nm" style="top:184.62px;left:411px">3</div><div class="nm" style="top:220.08px;left:411px">4</div><div class="nm" style="top:255.54px;left:411px">5</div><div class="nm" style="top:291.00px;left:411px">6</div><div class="nm" style="top:326.46px;left:411px">7</div><div class="nm" style="top:361.92px;left:411px">8</div><div class="nm" style="top:397.38px;left:411px">9</div><div class="nm" style="top:432.84px;left:423px">0</div>
</body></html>
